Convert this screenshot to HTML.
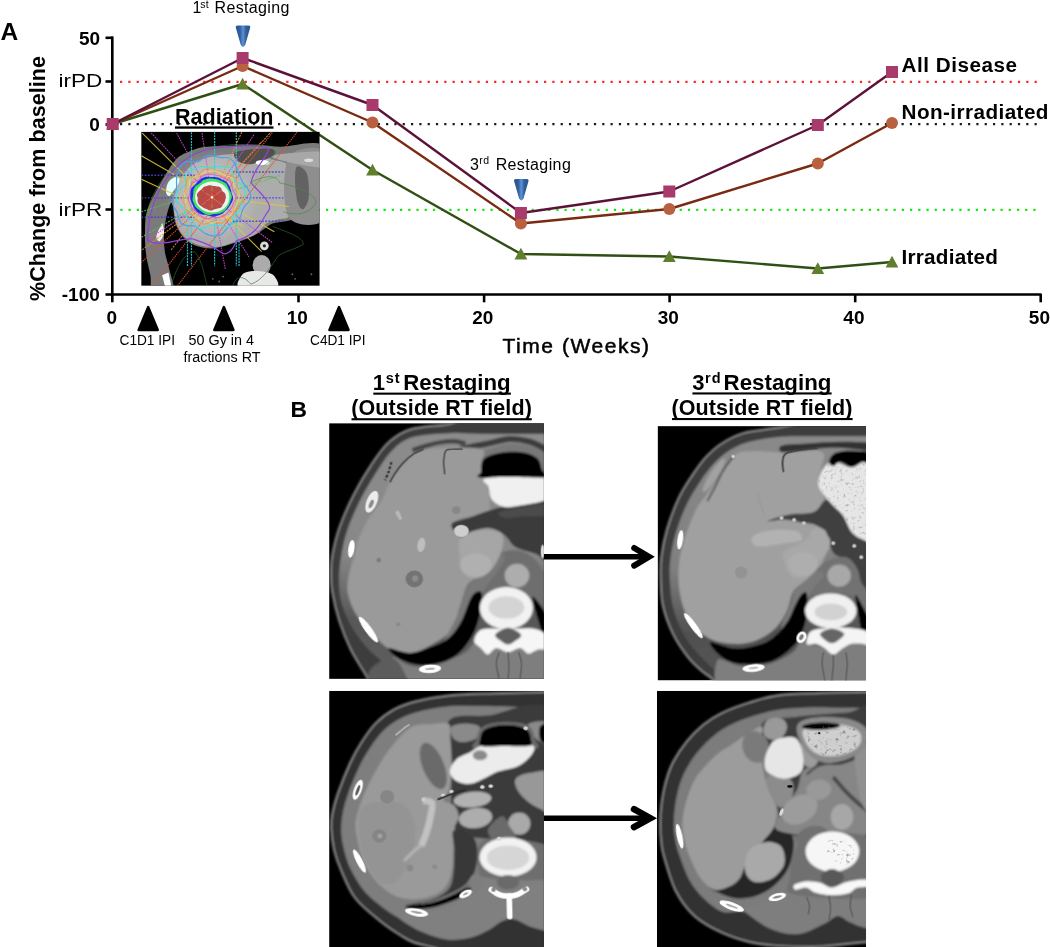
<!DOCTYPE html>
<html lang="en"><head><meta charset="utf-8"><title>Figure</title>
<style>
html,body{margin:0;padding:0;background:#fff;}
body{width:1050px;height:947px;overflow:hidden;font-family:"Liberation Sans",sans-serif;}
svg{display:block}
text{font-family:"Liberation Sans",sans-serif;fill:#000}
.b{font-weight:bold}
</style></head><body>
<svg width="1050" height="947" viewBox="0 0 1050 947">
<defs>
<linearGradient id="blu" x1="0" x2="1" y1="0" y2="0"><stop offset="0" stop-color="#28558f"/><stop offset="0.3" stop-color="#2f5f9e"/><stop offset="0.5" stop-color="#5d93d2"/><stop offset="0.7" stop-color="#2f5f9e"/><stop offset="1" stop-color="#28558f"/></linearGradient>
<filter id="b1" x="-20%" y="-20%" width="140%" height="140%"><feGaussianBlur stdDeviation="1"/></filter>
<filter id="b2" x="-20%" y="-20%" width="140%" height="140%"><feGaussianBlur stdDeviation="2"/></filter>
<filter id="b3" x="-20%" y="-20%" width="140%" height="140%"><feGaussianBlur stdDeviation="3.5"/></filter>
<filter id="b05" x="-20%" y="-20%" width="140%" height="140%"><feGaussianBlur stdDeviation="0.6"/></filter>
</defs>
<rect width="1050" height="947" fill="#fff"/>

<g id="chart">
<line x1="120" y1="81.8" x2="1037" y2="81.8" stroke="#f42a2a" stroke-width="2.2" stroke-dasharray="2.2 6.114" />
<line x1="120" y1="124.1" x2="1037" y2="124.1" stroke="#1a1a1a" stroke-width="2.2" stroke-dasharray="2.2 6.114" />
<line x1="120.3" y1="209.8" x2="1037" y2="209.8" stroke="#14e614" stroke-width="2.2" stroke-dasharray="2.2 6.026" />
<path d="M112.3 36.5 V294.5 H1041.5" fill="none" stroke="#000" stroke-width="2.6"/>
<line x1="105.5" y1="37.8" x2="113" y2="37.8" stroke="#000" stroke-width="2.6"/>
<line x1="105.5" y1="81.5" x2="113" y2="81.5" stroke="#000" stroke-width="2.6"/>
<line x1="105.5" y1="124.5" x2="113" y2="124.5" stroke="#000" stroke-width="2.6"/>
<line x1="105.5" y1="209.5" x2="113" y2="209.5" stroke="#000" stroke-width="2.6"/>
<line x1="105.5" y1="294.5" x2="113" y2="294.5" stroke="#000" stroke-width="2.6"/>
<line x1="112.3" y1="294" x2="112.3" y2="302.3" stroke="#000" stroke-width="2.6"/>
<line x1="298.5" y1="294" x2="298.5" y2="302.3" stroke="#000" stroke-width="2.6"/>
<line x1="484.1" y1="294" x2="484.1" y2="302.3" stroke="#000" stroke-width="2.6"/>
<line x1="669.6" y1="294" x2="669.6" y2="302.3" stroke="#000" stroke-width="2.6"/>
<line x1="855.2" y1="294" x2="855.2" y2="302.3" stroke="#000" stroke-width="2.6"/>
<line x1="1040.7" y1="294" x2="1040.7" y2="302.3" stroke="#000" stroke-width="2.6"/>
<text class="b" x="100.2" y="44.8" font-size="19" text-anchor="end">50</text>
<text x="58.6" y="87.2" font-size="18.5" textLength="43.8" lengthAdjust="spacingAndGlyphs">irPD</text>
<text class="b" x="99.8" y="130.6" font-size="19" text-anchor="end">0</text>
<text x="58.6" y="215.6" font-size="18.5" textLength="43.8" lengthAdjust="spacingAndGlyphs">irPR</text>
<text class="b" x="99.8" y="301.3" font-size="19" text-anchor="end">-100</text>
<text class="b" x="111.7" y="324.4" font-size="19" text-anchor="middle">0</text>
<text class="b" x="297.2" y="324.4" font-size="19" text-anchor="middle">10</text>
<text class="b" x="482.8" y="324.4" font-size="19" text-anchor="middle">20</text>
<text class="b" x="668.3" y="324.4" font-size="19" text-anchor="middle">30</text>
<text class="b" x="853.9" y="324.4" font-size="19" text-anchor="middle">40</text>
<text class="b" x="1039.4" y="324.4" font-size="19" text-anchor="middle">50</text>
<text class="b" transform="translate(44.5,301) rotate(-90)" font-size="21.5" textLength="245" lengthAdjust="spacing">%Change from baseline</text>
<text x="502.5" y="352.5" font-size="21" textLength="146.5" lengthAdjust="spacing" stroke="#000" stroke-width="0.5">Time (Weeks)</text>
<polyline points="112.7,124.0 242.6,84.0 372.5,170.0 520.9,254.0 669.3,256.5 817.8,268.5 892.0,262.0" fill="none" stroke="#2f4f14" stroke-width="2.4" stroke-linejoin="round"/>
<polyline points="112.7,124.0 242.6,66.0 372.5,122.5 520.9,223.5 669.3,209.0 817.8,163.5 892.0,123.0" fill="none" stroke="#7a2a12" stroke-width="2.4" stroke-linejoin="round"/>
<polyline points="112.7,124.0 242.6,58.0 372.5,105.0 520.9,213.0 669.3,191.5 817.8,125.0 892.0,72.0" fill="none" stroke="#5c1238" stroke-width="2.4" stroke-linejoin="round"/>
<path d="M112.7 117.8 l6.4 11.6 h-12.8z" fill="#5f7f2c"/>
<path d="M242.6 77.8 l6.4 11.6 h-12.8z" fill="#5f7f2c"/>
<path d="M372.5 163.8 l6.4 11.6 h-12.8z" fill="#5f7f2c"/>
<path d="M520.9 247.8 l6.4 11.6 h-12.8z" fill="#5f7f2c"/>
<path d="M669.3 250.3 l6.4 11.6 h-12.8z" fill="#5f7f2c"/>
<path d="M817.8 262.3 l6.4 11.6 h-12.8z" fill="#5f7f2c"/>
<path d="M892.0 255.8 l6.4 11.6 h-12.8z" fill="#5f7f2c"/>
<circle cx="112.7" cy="124.0" r="6" fill="#b8603f"/>
<circle cx="242.6" cy="66.0" r="6" fill="#b8603f"/>
<circle cx="372.5" cy="122.5" r="6" fill="#b8603f"/>
<circle cx="520.9" cy="223.5" r="6" fill="#b8603f"/>
<circle cx="669.3" cy="209.0" r="6" fill="#b8603f"/>
<circle cx="817.8" cy="163.5" r="6" fill="#b8603f"/>
<circle cx="892.0" cy="123.0" r="6" fill="#b8603f"/>
<rect x="106.7" y="118.0" width="12" height="12" fill="#a83a6c"/>
<rect x="236.6" y="52.0" width="12" height="12" fill="#a83a6c"/>
<rect x="366.5" y="99.0" width="12" height="12" fill="#a83a6c"/>
<rect x="514.9" y="207.0" width="12" height="12" fill="#a83a6c"/>
<rect x="663.3" y="185.5" width="12" height="12" fill="#a83a6c"/>
<rect x="811.8" y="119.0" width="12" height="12" fill="#a83a6c"/>
<rect x="886.0" y="66.0" width="12" height="12" fill="#a83a6c"/>
<text class="b" x="901.5" y="71.6" font-size="20.7" textLength="115.5" lengthAdjust="spacing">All Disease</text>
<text class="b" x="901.5" y="119.4" font-size="20.7" textLength="147" lengthAdjust="spacing">Non-irradiated</text>
<text class="b" x="901.5" y="263.7" font-size="20.7" textLength="96.5" lengthAdjust="spacing">Irradiated</text>
<text font-size="16"><tspan x="192.6" y="13.4">1</tspan><tspan x="200.3" y="7.6" font-size="10.5" textLength="8.4" lengthAdjust="spacing">st</tspan><tspan x="209.8" y="13.4" textLength="79.5" lengthAdjust="spacing"> Restaging</tspan></text>
<text font-size="16"><tspan x="470" y="170">3</tspan><tspan x="479.3" y="164" font-size="10.5" textLength="9.8" lengthAdjust="spacing">rd</tspan><tspan x="490.8" y="170" textLength="80" lengthAdjust="spacing"> Restaging</tspan></text>
<path d="M237.7 25.5 h10.6 q2.4 0 1.8 2.4 l-4.9 17.2 q-2.2 3.6 -4.4 0 l-4.9 -17.2 q-0.6 -2.4 1.8 -2.4z" fill="url(#blu)"/>
<path d="M516.0 179.0 h10.6 q2.4 0 1.8 2.4 l-4.9 17.2 q-2.2 3.6 -4.4 0 l-4.9 -17.2 q-0.6 -2.4 1.8 -2.4z" fill="url(#blu)"/>
<path d="M148.2 307 l9.6 23 h-19.2z" fill="#000" stroke="#000" stroke-width="2.4" stroke-linejoin="round"/>
<path d="M223.9 307 l9.6 23 h-19.2z" fill="#000" stroke="#000" stroke-width="2.4" stroke-linejoin="round"/>
<path d="M339.0 307 l9.6 23 h-19.2z" fill="#000" stroke="#000" stroke-width="2.4" stroke-linejoin="round"/>
<text x="119.5" y="344.5" font-size="14" textLength="55.5" lengthAdjust="spacingAndGlyphs">C1D1 IPI</text>
<text x="188.5" y="344.5" font-size="14" textLength="65.5" lengthAdjust="spacingAndGlyphs">50 Gy in 4</text>
<text x="183.5" y="361.5" font-size="14" textLength="77" lengthAdjust="spacingAndGlyphs">fractions RT</text>
<text x="310" y="344.5" font-size="14" textLength="55.5" lengthAdjust="spacingAndGlyphs">C4D1 IPI</text>
<text class="b" x="0.6" y="39.8" font-size="24.5">A</text>
<text class="b" x="290.6" y="417.3" font-size="22.8">B</text>
<text class="b" x="175" y="124.3" font-size="21.5" textLength="98.5" lengthAdjust="spacing">Radiation</text>
<rect x="175" y="126.4" width="98.5" height="2.3" fill="#000"/>
</g>
<g id="titles">
<text class="b" font-size="22"><tspan x="372.8" y="390.4">1</tspan><tspan x="385.8" y="383.3" font-size="14.5" textLength="13.8" lengthAdjust="spacing">st</tspan><tspan x="397" y="390.4" textLength="113.7" lengthAdjust="spacingAndGlyphs"> Restaging</tspan></text>
<rect x="373.3" y="392.6" width="137.6" height="2.1" fill="#000"/>
<text class="b" x="351.3" y="415.4" font-size="21.5" textLength="180.5" lengthAdjust="spacing">(Outside RT field)</text>
<rect x="351.5" y="418.2" width="180.3" height="2.1" fill="#000"/>
<text class="b" font-size="22"><tspan x="692.3" y="390.3">3</tspan><tspan x="705" y="383.2" font-size="14.5" textLength="15.6" lengthAdjust="spacing">rd</tspan><tspan x="717.4" y="390.3" textLength="114" lengthAdjust="spacingAndGlyphs"> Restaging</tspan></text>
<rect x="692.4" y="392.4" width="139.2" height="2.1" fill="#000"/>
<text class="b" x="671.5" y="415.4" font-size="21.5" textLength="181" lengthAdjust="spacing">(Outside RT field)</text>
<rect x="672" y="418" width="180.6" height="2.1" fill="#000"/>
<line x1="544" y1="556.8" x2="650.0" y2="556.8" stroke="#000" stroke-width="5.6"/>
<polyline points="634.2,548.0 649.0,556.8 634.2,565.6" fill="none" stroke="#000" stroke-width="6.0" stroke-linecap="round" stroke-linejoin="miter"/>
<line x1="544" y1="818.2" x2="651.3" y2="818.2" stroke="#000" stroke-width="5.6"/>
<polyline points="634.0,809.2 650.3,818.2 634.0,827.2" fill="none" stroke="#000" stroke-width="6.5" stroke-linecap="round" stroke-linejoin="miter"/>
</g>
<svg id="rad" x="135" y="125" width="190" height="167" viewBox="0 0 1050 923" overflow="hidden">
<defs>
<clipPath id="radclip"><rect x="35" y="38" width="985" height="850"/></clipPath>
<filter id="rb" x="-10%" y="-10%" width="120%" height="120%"><feGaussianBlur stdDeviation="3.5"/></filter>
<filter id="rb2" x="-10%" y="-10%" width="120%" height="120%"><feGaussianBlur stdDeviation="9"/></filter>
<filter id="rb1" x="-10%" y="-10%" width="120%" height="120%"><feGaussianBlur stdDeviation="2.5"/></filter>
<radialGradient id="rglow" cx="425" cy="395" r="260" gradientUnits="userSpaceOnUse"><stop offset="0" stop-color="#fff" stop-opacity="0.4"/><stop offset="0.55" stop-color="#fff" stop-opacity="0.2"/><stop offset="1" stop-color="#fff" stop-opacity="0"/></radialGradient>
</defs>
<rect x="35" y="38" width="985" height="850" fill="#000"/>
<g clip-path="url(#radclip)">
<g filter="url(#rb)">
<path d="M1060.0 130.0 C1016.7 65.8 870.0 123.0 800.0 120.0 C730.0 117.0 682.8 112.8 640.0 112.0 C597.2 111.2 585.5 113.3 543.0 115.0 C500.5 116.7 423.7 117.3 385.0 122.0 C346.3 126.7 337.3 131.7 311.0 143.0 C284.7 154.3 254.2 162.0 227.0 190.0 C199.8 218.0 174.3 264.5 148.0 311.0 C121.7 357.5 84.5 420.8 69.0 469.0 C53.5 517.2 56.2 558.2 55.0 600.0 C53.8 641.8 57.0 681.7 62.0 720.0 C67.0 758.3 78.7 796.7 85.0 830.0 C91.3 863.3 79.2 905.0 100.0 920.0 C120.8 935.0 195.0 940.0 210.0 920.0 C225.0 900.0 197.5 836.7 190.0 800.0 C182.5 763.3 170.0 733.3 165.0 700.0 C160.0 666.7 158.3 633.3 160.0 600.0 C161.7 566.7 167.5 528.3 175.0 500.0 C182.5 471.7 195.8 420.0 205.0 430.0 C214.2 440.0 214.2 523.3 230.0 560.0 C245.8 596.7 268.3 629.7 300.0 650.0 C331.7 670.3 376.7 682.0 420.0 682.0 C463.3 682.0 520.0 662.0 560.0 650.0 C600.0 638.0 636.7 620.8 660.0 610.0 C683.3 599.2 683.3 595.8 700.0 585.0 C716.7 574.2 736.7 554.2 760.0 545.0 C783.3 535.8 806.7 535.8 840.0 530.0 C873.3 524.2 923.3 514.2 960.0 510.0 C996.7 505.8 1043.3 568.3 1060.0 505.0 C1076.7 441.7 1103.3 194.2 1060.0 130.0Z" fill="#7a7a7a" />
<path d="M215.0 470.0 C212.0 435.0 212.8 393.3 222.0 360.0 C231.2 326.7 250.3 295.8 270.0 270.0 C289.7 244.2 311.7 221.3 340.0 205.0 C368.3 188.7 396.7 179.5 440.0 172.0 C483.3 164.5 546.7 157.0 600.0 160.0 C653.3 163.0 718.3 178.0 760.0 190.0 C801.7 202.0 834.2 197.0 850.0 232.0 C865.8 267.0 855.0 354.5 855.0 400.0 C855.0 445.5 860.8 484.7 850.0 505.0 C839.2 525.3 810.0 515.8 790.0 522.0 C770.0 528.2 746.7 532.0 730.0 542.0 C713.3 552.0 703.3 570.3 690.0 582.0 C676.7 593.7 671.7 602.0 650.0 612.0 C628.3 622.0 590.0 632.0 560.0 642.0 C530.0 652.0 498.3 667.0 470.0 672.0 C441.7 677.0 418.3 677.3 390.0 672.0 C361.7 666.7 325.0 657.0 300.0 640.0 C275.0 623.0 254.2 598.3 240.0 570.0 C225.8 541.7 218.0 505.0 215.0 470.0Z" fill="#acacac" />
<path d="M850.0 180.0 C885.0 121.7 1025.0 105.0 1060.0 160.0 C1095.0 215.0 1095.0 451.7 1060.0 510.0 C1025.0 568.3 885.0 565.0 850.0 510.0 C815.0 455.0 815.0 238.3 850.0 180.0Z" fill="#8e8e8e" />
<path d="M895.0 230.0 C905.8 221.7 939.2 241.7 950.0 270.0 C960.8 298.3 963.3 367.5 960.0 400.0 C956.7 432.5 940.0 460.0 930.0 465.0 C920.0 470.0 907.5 454.2 900.0 430.0 C892.5 405.8 885.8 353.3 885.0 320.0 C884.2 286.7 884.2 238.3 895.0 230.0Z" fill="#626262" />
<path d="M760.0 170.0 C786.7 159.0 1010.0 139.7 1060.0 150.0 C1110.0 160.3 1086.7 221.0 1060.0 232.0 C1033.3 243.0 950.0 226.3 900.0 216.0 C850.0 205.7 733.3 181.0 760.0 170.0Z" fill="#a8a8a8" />
<path d="M560.0 150.0 C588.3 138.3 705.0 127.5 740.0 130.0 C775.0 132.5 785.0 150.8 770.0 165.0 C755.0 179.2 683.3 209.2 650.0 215.0 C616.7 220.8 585.0 210.8 570.0 200.0 C555.0 189.2 531.7 161.7 560.0 150.0Z" fill="#505050" />
<circle cx="715" cy="668" r="24" fill="#ddd"/>
<ellipse cx="700" cy="775" rx="50" ry="56" fill="#ababab" />
<path d="M580.0 900.0 C548.7 888.3 580.0 845.3 590.0 830.0 C600.0 814.7 618.3 811.0 640.0 808.0 C661.7 805.0 698.3 807.5 720.0 812.0 C741.7 816.5 760.3 820.3 770.0 835.0 C779.7 849.7 809.7 889.2 778.0 900.0 C746.3 910.8 611.3 911.7 580.0 900.0Z" fill="#e8e8e8" />
</g>
<ellipse cx="425" cy="395" rx="270" ry="250" fill="url(#rglow)"/>
<g filter="url(#rb1)">
<circle cx="715" cy="668" r="9" fill="#222"/>
<ellipse cx="705" cy="208" rx="38" ry="14" fill="#fff" />
<path d="M172.0 375.0 C170.3 363.8 173.3 338.8 180.0 325.0 C186.7 311.2 201.0 296.8 212.0 292.0 C223.0 287.2 242.0 289.3 246.0 296.0 C250.0 302.7 241.3 321.0 236.0 332.0 C230.7 343.0 221.7 352.0 214.0 362.0 C206.3 372.0 197.0 389.8 190.0 392.0 C183.0 394.2 173.7 386.2 172.0 375.0Z" fill="#e4ffff" />
<path d="M118.0 625.0 C116.3 616.3 122.0 600.8 126.0 590.0 C130.0 579.2 137.7 567.5 142.0 560.0 C146.3 552.5 149.0 538.3 152.0 545.0 C155.0 551.7 162.7 583.8 160.0 600.0 C157.3 616.2 143.0 637.8 136.0 642.0 C129.0 646.2 119.7 633.7 118.0 625.0Z" fill="#eee" />
<path d="M150 830 L185 815 L200 888 L165 888Z" fill="#fff"/>
<ellipse cx="960" cy="195" rx="25" ry="10" fill="#ddd" />
<ellipse cx="430" cy="850" rx="5" ry="5" fill="#666" />
<ellipse cx="465" cy="865" rx="5" ry="5" fill="#666" />
<ellipse cx="487" cy="838" rx="5" ry="5" fill="#666" />
<ellipse cx="870" cy="825" rx="5" ry="5" fill="#666" />
<ellipse cx="885" cy="850" rx="5" ry="5" fill="#666" />
<ellipse cx="975" cy="825" rx="5" ry="5" fill="#666" />
</g>
<g fill="none" stroke-width="6" opacity="0.9">
<g stroke="#e0c838"><path d="M40 45 L700 700"/><path d="M35 170 L770 590"/><path d="M35 300 L600 560"/><path d="M425 400 L850 450"/></g>
<g stroke="#d048d0" stroke-dasharray="9 5"><path d="M90 45 L425 400 L630 730"/><path d="M230 45 L425 400 L500 800"/><path d="M370 45 L425 400"/><path d="M425 400 L760 650"/><path d="M425 400 L60 640"/><path d="M425 400 L660 50"/></g>
<g stroke="#30d0e0" stroke-dasharray="11 5" stroke-width="6.5"><path d="M312 40 V780"/><path d="M440 40 V780"/><path d="M560 40 V780"/><path d="M290 560 V780"/><path d="M575 640 V780"/></g>
<g stroke="#4444cc" stroke-dasharray="10 8" stroke-width="7.5"><path d="M35 278 H330"/><path d="M540 260 H820"/><path d="M35 403 H300"/><path d="M560 403 H820"/><path d="M35 510 H330"/><path d="M540 532 H820"/></g>
<g stroke="#e85030" stroke-dasharray="7 5" stroke-width="6.5"><path d="M95 888 L760 40"/><path d="M235 888 L895 40"/><path d="M35 760 L425 400 L700 90"/></g>
<g stroke="#e89030" stroke-dasharray="11 6"><path d="M40 690 L425 400 L590 40"/><path d="M200 690 L425 400 L750 40"/></g>
<g stroke="#50c850" stroke-dasharray="11 6"><path d="M35 620 L425 400 L800 280"/><path d="M35 480 L220 420"/></g>
</g>
<g fill="none">
<path d="M70 640 C70 400 200 180 420 130 C560 110 700 110 740 130 C720 200 660 230 640 320 C700 380 760 440 740 470 C700 520 690 600 560 640 C540 700 500 730 470 700 C420 660 350 640 320 630 C250 620 150 680 70 640Z" stroke="#9440d8" stroke-width="6.5"/>
<path d="M639.9 385.0 C641.5 396.7 636.7 410.1 631.0 420.9 C625.2 431.7 612.0 440.2 605.3 449.9 C598.7 459.6 595.1 468.8 591.0 479.0 C586.9 489.3 586.6 502.3 580.8 511.3 C575.0 520.4 565.1 527.1 556.3 533.2 C547.4 539.2 536.1 541.1 527.8 547.8 C519.5 554.5 514.1 564.3 506.4 573.2 C498.8 582.1 491.5 594.8 482.0 601.4 C472.5 608.0 460.6 611.5 449.4 612.9 C438.2 614.3 426.1 612.4 415.0 609.7 C403.9 607.0 392.8 602.7 383.0 596.9 C373.2 591.0 365.0 580.8 356.3 574.4 C347.6 568.0 340.9 561.2 330.8 558.3 C320.7 555.4 307.6 558.8 295.9 557.0 C284.1 555.1 269.1 554.1 260.2 547.3 C251.3 540.6 247.0 527.4 242.3 516.6 C237.7 505.8 237.0 493.1 232.4 482.6 C227.9 472.0 219.3 463.7 214.8 453.2 C210.3 442.8 205.1 431.2 205.5 419.8 C205.9 408.4 213.2 395.9 217.1 385.0 C221.1 374.1 227.1 364.7 229.1 354.1 C231.2 343.6 229.1 333.0 229.4 321.7 C229.7 310.5 229.1 298.3 230.9 286.6 C232.7 275.0 235.8 263.0 240.2 251.8 C244.6 240.6 249.3 227.8 257.3 219.6 C265.4 211.4 277.0 205.2 288.6 202.6 C300.2 200.0 315.5 204.5 327.0 203.8 C338.4 203.1 347.7 202.9 357.2 198.3 C366.6 193.8 373.9 182.1 383.6 176.8 C393.2 171.4 404.5 166.6 415.0 166.3 C425.5 166.1 436.1 173.1 446.7 175.4 C457.2 177.7 467.2 179.2 478.5 180.1 C489.7 181.0 503.4 177.5 514.2 180.7 C525.0 184.0 535.9 190.9 543.3 199.7 C550.8 208.6 554.5 222.8 559.1 233.8 C563.8 244.8 567.2 255.7 571.5 265.8 C575.7 275.8 580.1 284.9 584.7 294.3 C589.3 303.7 593.0 312.9 599.1 322.3 C605.2 331.7 614.5 340.3 621.3 350.7 C628.2 361.2 638.3 373.3 639.9 385.0Z" fill="none" stroke="#48a0f0" stroke-width="6.5" />
<path d="M607.7 395.0 C605.4 404.1 596.4 412.8 592.2 421.4 C588.0 429.9 585.2 437.6 582.7 446.1 C580.2 454.6 581.8 465.1 577.3 472.5 C572.9 479.9 561.9 483.8 556.0 490.4 C550.0 497.1 545.1 502.9 541.6 512.5 C538.1 522.0 540.4 539.5 534.9 547.8 C529.4 556.2 518.6 561.5 508.4 562.6 C498.2 563.8 484.1 556.3 473.6 554.5 C463.2 552.7 454.6 551.8 445.7 551.6 C436.7 551.4 428.9 551.3 420.0 553.3 C411.1 555.3 402.4 560.0 392.4 563.6 C382.3 567.1 369.2 575.7 359.6 574.6 C350.0 573.4 341.5 564.2 334.7 556.7 C327.9 549.3 325.4 536.5 318.7 529.8 C311.9 523.0 301.1 522.3 294.3 516.4 C287.6 510.6 281.4 502.9 278.0 494.7 C274.6 486.5 277.7 475.0 273.7 467.0 C269.8 459.1 261.0 454.3 254.2 447.0 C247.5 439.8 237.3 432.3 233.1 423.6 C228.9 414.9 228.6 404.5 229.1 395.0 C229.5 385.5 230.5 375.2 235.7 366.8 C240.9 358.4 252.4 351.4 260.2 344.8 C267.9 338.2 279.2 335.4 282.2 327.1 C285.1 318.9 277.8 306.0 277.8 295.2 C277.9 284.4 276.9 269.6 282.5 262.1 C288.1 254.7 302.0 254.1 311.3 250.4 C320.6 246.8 329.6 243.7 338.4 240.3 C347.3 236.9 355.4 231.3 364.5 230.0 C373.7 228.7 384.1 232.4 393.4 232.6 C402.6 232.8 411.0 231.9 420.0 231.2 C429.0 230.5 438.1 228.4 447.3 228.5 C456.4 228.6 464.8 231.9 474.8 231.9 C484.9 232.0 497.5 227.2 507.6 228.9 C517.6 230.6 529.9 233.3 535.1 241.9 C540.3 250.5 536.9 269.5 538.7 280.3 C540.6 291.0 540.3 299.9 546.2 306.4 C552.2 312.8 566.4 313.3 574.6 318.9 C582.8 324.5 590.3 332.0 595.5 339.9 C600.8 347.8 604.1 357.3 606.2 366.5 C608.2 375.7 610.0 385.9 607.7 395.0Z" fill="none" stroke="#40e0e0" stroke-width="6.5" />
<path d="M592.0 395.0 C595.5 402.9 595.9 412.6 592.5 420.2 C589.1 427.7 576.8 433.4 571.8 440.3 C566.7 447.1 565.7 454.5 561.9 461.2 C558.1 467.9 553.3 474.0 549.0 480.5 C544.7 487.0 540.6 493.7 535.9 500.3 C531.1 506.8 526.9 514.8 520.6 519.9 C514.2 524.9 505.2 526.6 497.7 530.5 C490.3 534.4 483.8 541.6 475.7 543.3 C467.7 544.9 457.7 542.4 449.3 540.5 C440.8 538.6 433.2 531.1 425.0 531.7 C416.8 532.3 408.8 541.3 400.2 543.8 C391.5 546.4 381.4 548.3 373.0 546.8 C364.7 545.3 356.5 540.2 350.0 534.8 C343.4 529.4 338.3 521.4 333.7 514.4 C329.1 507.3 328.4 497.7 322.3 492.5 C316.3 487.3 304.7 487.5 297.4 483.0 C290.1 478.6 282.5 472.7 278.6 465.8 C274.7 458.9 276.4 449.3 274.0 441.6 C271.6 433.8 265.1 427.0 264.0 419.2 C263.0 411.4 265.8 402.8 267.8 395.0 C269.7 387.2 273.9 380.1 275.7 372.6 C277.6 365.1 277.6 357.6 279.0 350.0 C280.5 342.4 283.3 335.5 284.6 327.1 C285.9 318.7 282.6 306.6 286.7 299.6 C290.8 292.6 300.3 287.6 309.1 285.0 C317.9 282.3 331.8 286.5 339.7 283.5 C347.6 280.5 350.4 272.7 356.4 267.2 C362.4 261.7 368.4 255.1 375.6 250.5 C382.7 245.9 390.9 241.6 399.1 239.8 C407.3 237.9 416.7 237.5 425.0 239.5 C433.3 241.5 440.8 249.5 448.9 252.0 C456.9 254.4 465.4 252.2 473.2 254.1 C481.0 256.0 488.7 259.5 495.6 263.5 C502.5 267.5 506.8 274.6 514.6 278.0 C522.4 281.3 534.9 279.5 542.4 283.5 C550.0 287.5 556.0 294.8 559.7 302.1 C563.3 309.5 563.1 319.4 564.3 327.6 C565.5 335.8 565.5 343.7 566.7 351.3 C567.9 358.8 567.3 365.7 571.5 373.0 C575.7 380.3 588.5 387.1 592.0 395.0Z" fill="none" stroke="#e8a040" stroke-width="6" />
<path d="M577.5 395.0 C576.4 402.2 568.5 409.1 565.9 416.1 C563.2 423.1 563.8 430.2 561.8 437.0 C559.8 443.8 557.1 450.7 553.7 457.0 C550.3 463.3 544.9 468.3 541.5 475.0 C538.0 481.7 537.9 491.5 533.0 497.1 C528.1 502.6 519.3 505.2 512.1 508.3 C504.9 511.4 497.4 513.8 489.9 515.5 C482.5 517.1 474.3 515.0 467.3 518.2 C460.4 521.4 455.5 530.7 448.4 534.7 C441.4 538.7 432.6 543.3 425.0 542.3 C417.4 541.3 409.8 532.3 402.6 528.9 C395.3 525.4 388.6 523.7 381.6 521.4 C374.5 519.0 368.1 516.5 360.4 514.8 C352.8 513.1 342.3 514.8 335.6 511.2 C329.0 507.7 325.5 499.5 320.6 493.6 C315.8 487.8 310.9 482.3 306.7 476.2 C302.5 470.2 297.7 464.2 295.3 457.5 C292.9 450.7 295.1 442.5 292.4 435.7 C289.8 428.9 282.4 423.6 279.4 416.8 C276.3 410.0 274.6 402.4 273.9 395.0 C273.3 387.6 272.0 379.3 275.3 372.6 C278.6 365.9 289.5 360.9 293.8 354.7 C298.1 348.5 299.9 342.8 301.1 335.3 C302.3 327.9 298.3 316.8 301.2 310.0 C304.0 303.1 312.0 298.6 318.3 294.2 C324.7 289.7 331.9 286.0 339.2 283.4 C346.5 280.7 355.3 281.5 362.0 278.2 C368.8 274.8 373.1 266.8 379.7 263.3 C386.4 259.9 394.4 258.8 401.9 257.4 C409.5 256.1 417.2 255.9 425.0 255.4 C432.8 254.8 441.3 252.1 448.6 254.2 C455.9 256.4 461.9 264.5 468.6 268.1 C475.4 271.7 482.2 273.3 489.1 276.0 C496.1 278.7 502.5 281.7 510.2 284.1 C517.9 286.6 529.6 286.0 535.3 290.7 C541.0 295.5 542.8 305.2 544.7 312.8 C546.5 320.5 543.4 329.9 546.3 336.6 C549.2 343.2 557.7 346.8 562.1 352.9 C566.5 359.0 570.1 365.9 572.7 372.9 C575.3 379.9 578.6 387.8 577.5 395.0Z" fill="none" stroke="#f0e060" stroke-width="4" />
<path d="M563.9 395.0 C563.3 401.7 559.3 408.2 557.7 414.8 C556.1 421.4 556.1 428.2 554.1 434.5 C552.2 440.9 547.9 446.3 545.8 452.9 C543.6 459.6 545.4 469.1 541.2 474.5 C537.1 479.9 527.3 481.8 520.9 485.3 C514.4 488.8 508.2 491.5 502.6 495.5 C496.9 499.5 492.2 504.3 486.7 509.1 C481.2 513.9 476.4 522.2 469.6 524.3 C462.9 526.4 453.7 522.2 446.3 521.4 C438.8 520.6 432.1 519.5 425.0 519.7 C417.9 519.8 410.8 522.1 403.6 522.2 C396.4 522.3 388.6 522.2 381.7 520.3 C374.9 518.5 368.4 514.5 362.3 510.9 C356.2 507.3 350.5 502.9 345.1 498.6 C339.6 494.3 334.1 489.9 329.3 485.1 C324.5 480.2 321.4 474.3 316.2 469.4 C311.0 464.5 302.0 461.5 298.2 455.8 C294.4 450.1 294.0 442.2 293.2 435.3 C292.5 428.4 293.7 421.3 293.6 414.6 C293.5 407.9 294.6 401.8 292.7 395.0 C290.9 388.2 282.3 380.4 282.4 373.7 C282.6 367.0 289.7 360.8 293.6 354.8 C297.5 348.8 301.9 343.4 305.8 337.8 C309.7 332.2 313.9 327.4 317.2 321.2 C320.4 315.1 320.6 306.1 325.1 300.9 C329.6 295.8 338.1 294.0 344.3 290.4 C350.5 286.7 355.8 281.8 362.3 279.2 C368.9 276.5 376.6 276.4 383.5 274.7 C390.4 273.1 396.9 271.1 403.9 269.3 C410.8 267.6 417.8 265.4 425.0 264.3 C432.2 263.3 440.3 261.2 447.2 263.0 C454.1 264.8 460.2 271.4 466.4 275.0 C472.6 278.7 477.6 282.9 484.5 285.0 C491.5 287.1 501.1 285.0 507.9 287.6 C514.6 290.3 520.7 295.3 525.1 300.8 C529.5 306.2 531.2 314.1 534.1 320.4 C537.0 326.7 538.4 333.0 542.4 338.7 C546.4 344.3 555.1 348.2 558.3 354.2 C561.4 360.2 560.4 367.9 561.3 374.7 C562.2 381.5 564.5 388.3 563.9 395.0Z" fill="none" stroke="#e8a040" stroke-width="4" />
<path d="M559.1 395.0 C559.9 401.3 557.0 408.3 554.4 414.4 C551.8 420.4 546.4 425.6 543.6 431.4 C540.9 437.3 540.8 443.9 538.1 449.5 C535.3 455.1 530.8 459.9 527.0 465.1 C523.2 470.2 519.3 475.2 515.1 480.2 C510.9 485.2 507.0 490.9 501.8 494.9 C496.6 499.0 490.1 501.7 484.0 504.5 C477.9 507.4 471.8 510.9 465.2 511.9 C458.6 512.9 451.1 510.8 444.4 510.5 C437.7 510.3 431.7 509.2 425.0 510.5 C418.3 511.8 411.2 517.4 404.4 518.1 C397.5 518.8 390.2 517.1 383.9 514.7 C377.5 512.3 371.9 507.6 366.5 503.6 C361.1 499.6 356.4 494.9 351.6 490.5 C346.8 486.2 343.0 481.4 337.7 477.5 C332.5 473.6 324.8 471.5 320.0 467.1 C315.2 462.7 311.9 456.6 309.1 450.8 C306.2 445.1 305.3 438.5 303.0 432.5 C300.8 426.4 296.3 420.6 295.6 414.4 C294.9 408.1 297.5 401.3 298.7 395.0 C300.0 388.7 302.0 382.9 303.0 376.7 C303.9 370.6 303.4 364.2 304.3 357.9 C305.3 351.6 306.7 345.2 308.7 339.0 C310.7 332.7 311.9 325.2 316.4 320.4 C320.8 315.6 328.9 313.0 335.1 310.1 C341.4 307.1 348.6 306.2 353.9 302.5 C359.2 298.8 362.0 291.8 367.2 287.7 C372.3 283.6 378.5 280.3 384.7 277.8 C391.0 275.4 397.8 273.7 404.5 272.9 C411.2 272.0 418.3 271.8 425.0 272.6 C431.7 273.4 438.1 276.4 444.6 277.7 C451.2 279.0 458.1 278.7 464.3 280.6 C470.6 282.5 476.2 286.3 482.0 289.2 C487.9 292.1 493.2 295.4 499.5 298.1 C505.8 300.8 514.6 301.3 519.8 305.4 C525.0 309.4 528.0 316.4 530.7 322.4 C533.4 328.5 533.9 335.5 535.9 341.6 C537.8 347.7 540.0 353.2 542.3 359.0 C544.7 364.8 547.1 370.3 549.9 376.3 C552.7 382.3 558.3 388.7 559.1 395.0Z" fill="none" stroke="#e860c8" stroke-width="6" />
<path d="M640 320 C720 270 790 280 800 320 C900 340 1000 380 1000 430 C960 500 880 500 820 480" stroke="#3f8f3f" stroke-width="3.5"/>
<path d="M760 560 C860 600 930 620 930 660 C860 700 800 700 780 740 C740 800 700 860 640 880 C600 830 560 830 540 888" stroke="#2f6f2f" stroke-width="3.5"/>
<path d="M200 888 C230 780 280 700 330 700 C380 760 380 840 400 888" stroke="#2f6f2f" stroke-width="3.5"/>
<path d="M60 520 C80 380 180 220 330 150 C450 100 650 100 760 120 C790 150 760 200 700 230" stroke="#3f9f3f" stroke-width="3"/>
</g>
<path d="M540.7 395.0 C541.9 400.8 542.8 407.1 541.7 412.8 C540.6 418.5 536.6 423.9 533.9 429.2 C531.1 434.4 528.1 439.4 525.1 444.4 C522.1 449.4 519.4 454.5 515.8 459.1 C512.2 463.6 507.8 467.6 503.6 471.7 C499.4 475.8 495.2 480.0 490.5 483.7 C485.9 487.4 480.9 491.0 475.6 493.8 C470.2 496.6 464.2 498.4 458.4 500.3 C452.6 502.3 446.7 504.7 440.6 505.6 C434.6 506.6 428.1 507.1 422.0 506.3 C415.9 505.4 410.1 502.1 404.2 500.4 C398.4 498.8 392.9 497.5 387.0 496.4 C381.0 495.3 374.3 495.7 368.4 494.0 C362.5 492.2 356.7 489.4 351.6 486.1 C346.5 482.8 342.0 478.5 337.9 474.1 C333.8 469.7 330.1 464.9 327.1 459.8 C324.0 454.8 322.3 449.2 319.8 443.9 C317.4 438.7 314.8 433.7 312.5 428.5 C310.2 423.2 307.1 417.9 306.0 412.3 C304.8 406.7 305.3 400.8 305.3 395.0 C305.4 389.2 305.8 383.6 306.2 377.8 C306.6 371.9 306.0 365.6 307.7 360.1 C309.4 354.5 312.9 349.2 316.5 344.5 C320.2 339.8 325.4 336.1 329.5 331.8 C333.6 327.6 337.2 323.3 341.3 319.1 C345.3 314.9 349.4 310.8 353.9 306.8 C358.3 302.9 363.0 298.9 368.1 295.5 C373.2 292.2 378.7 288.6 384.7 286.9 C390.6 285.3 397.4 285.6 403.6 285.8 C409.8 285.9 415.9 287.3 422.0 287.6 C428.1 287.8 434.1 286.8 440.1 287.3 C446.2 287.8 452.4 288.8 458.1 290.6 C463.8 292.3 469.0 295.5 474.6 298.0 C480.1 300.4 486.0 302.4 491.3 305.3 C496.6 308.2 502.1 311.5 506.5 315.5 C510.9 319.6 514.4 324.8 517.6 329.7 C520.8 334.7 523.8 339.9 525.9 345.2 C528.1 350.6 529.2 356.3 530.6 361.8 C532.0 367.3 532.6 372.7 534.3 378.3 C536.0 383.8 539.5 389.2 540.7 395.0Z" fill="#2230e0" />
<path d="M535.3 396.0 C535.2 401.2 532.5 406.6 530.8 411.7 C529.1 416.7 526.8 421.4 525.1 426.4 C523.3 431.3 522.7 436.7 520.2 441.4 C517.8 446.0 513.7 449.8 510.5 454.0 C507.2 458.3 504.2 462.6 500.6 466.7 C497.1 470.8 493.6 475.3 489.2 478.5 C484.7 481.8 479.3 484.0 474.1 486.1 C468.9 488.2 463.5 490.1 458.0 491.0 C452.5 491.9 446.7 491.1 441.2 491.6 C435.7 492.2 430.6 493.4 425.0 494.5 C419.4 495.6 413.3 498.4 407.7 498.1 C402.1 497.8 396.5 495.0 391.4 492.7 C386.2 490.5 381.5 487.3 376.8 484.4 C372.1 481.5 367.5 478.7 363.1 475.6 C358.8 472.4 354.7 469.0 350.4 465.7 C346.1 462.3 341.0 459.5 337.4 455.5 C333.8 451.5 331.5 446.4 329.1 441.7 C326.6 436.9 324.5 432.1 322.6 427.1 C320.7 422.1 318.1 417.1 317.7 411.9 C317.3 406.7 319.5 401.2 320.2 396.0 C320.9 390.8 321.4 385.9 321.8 380.7 C322.2 375.5 321.6 370.1 322.5 364.9 C323.5 359.7 325.1 354.4 327.5 349.6 C329.8 344.7 332.6 339.7 336.5 335.9 C340.4 332.1 346.4 329.9 351.0 326.8 C355.6 323.8 359.8 321.0 364.0 317.5 C368.1 314.0 371.3 308.9 375.9 306.0 C380.5 303.0 386.2 301.5 391.6 299.9 C396.9 298.2 402.5 297.0 408.1 296.3 C413.7 295.5 419.4 295.1 425.0 295.5 C430.6 295.8 436.1 297.4 441.5 298.4 C447.0 299.4 452.6 300.0 457.8 301.6 C463.0 303.2 467.8 306.0 472.9 308.2 C478.0 310.3 483.2 312.1 488.3 314.5 C493.4 317.0 499.6 318.9 503.4 322.7 C507.2 326.5 509.0 332.5 511.4 337.4 C513.7 342.2 515.3 347.2 517.6 351.9 C520.0 356.6 522.9 360.9 525.2 365.6 C527.5 370.3 529.7 375.2 531.4 380.2 C533.1 385.3 535.3 390.8 535.3 396.0Z" fill="#44e066" />
<ellipse cx="427" cy="398" rx="95" ry="86" fill="#e8f6ee" filter="url(#rb1)"/>
<path d="M502.3 402.0 C501.9 405.6 499.9 409.0 498.9 412.5 C497.9 415.9 497.5 419.5 496.3 422.8 C495.1 426.1 493.4 429.4 491.5 432.5 C489.6 435.6 486.7 438.0 484.8 441.3 C482.9 444.5 482.6 449.1 480.1 452.0 C477.7 455.0 473.8 457.3 469.9 458.8 C466.1 460.3 461.0 460.1 456.9 461.0 C452.8 461.9 449.3 463.2 445.5 464.4 C441.7 465.5 438.1 466.6 434.1 468.0 C430.2 469.4 426.2 472.0 422.0 472.6 C417.8 473.2 413.2 472.8 409.2 471.5 C405.2 470.3 401.9 466.8 398.2 465.2 C394.4 463.5 390.3 463.3 386.6 461.8 C382.9 460.4 379.3 458.5 376.0 456.5 C372.7 454.4 370.0 451.8 366.8 449.5 C363.6 447.2 359.6 445.4 356.8 442.8 C354.1 440.1 352.2 436.7 350.3 433.4 C348.5 430.2 346.5 426.8 345.7 423.3 C344.9 419.8 345.4 416.0 345.7 412.4 C345.9 408.8 347.7 405.5 347.1 402.0 C346.6 398.5 343.2 394.8 342.5 391.2 C341.9 387.5 341.9 383.4 343.4 380.0 C344.8 376.6 348.4 373.7 351.0 370.9 C353.6 368.0 356.4 365.3 359.2 362.7 C362.1 360.2 365.5 358.3 368.2 355.7 C370.9 353.0 372.6 349.4 375.4 346.8 C378.3 344.2 381.6 341.6 385.3 340.1 C389.0 338.5 393.6 338.4 397.6 337.3 C401.6 336.2 405.3 333.9 409.4 333.4 C413.4 332.8 417.9 333.5 422.0 334.2 C426.1 334.9 429.9 336.8 433.9 337.5 C437.9 338.1 442.0 337.6 446.1 338.1 C450.2 338.6 454.4 339.4 458.5 340.4 C462.5 341.5 467.3 342.3 470.6 344.5 C473.9 346.7 476.3 350.2 478.3 353.5 C480.3 356.8 480.2 361.3 482.3 364.3 C484.5 367.3 488.7 368.9 491.4 371.6 C494.1 374.3 497.0 377.3 498.7 380.6 C500.3 383.8 500.8 387.6 501.4 391.2 C502.0 394.7 502.7 398.4 502.3 402.0Z" fill="#b84a48" />
<g stroke="#e8e060" stroke-width="3" opacity="0.6"><path d="M370 360 L480 440"/><path d="M370 440 L480 360"/><path d="M425 340 V460"/></g>
<g fill="#e03030" opacity="0.8">
<circle cx="424" cy="430" r="6"/>
<circle cx="397" cy="424" r="6"/>
<circle cx="419" cy="400" r="6"/>
<circle cx="472" cy="406" r="6"/>
<circle cx="421" cy="414" r="6"/>
<circle cx="450" cy="401" r="6"/>
<circle cx="437" cy="381" r="6"/>
<circle cx="416" cy="396" r="6"/>
<circle cx="387" cy="369" r="6"/>
<circle cx="378" cy="397" r="6"/>
<circle cx="420" cy="399" r="6"/>
<circle cx="424" cy="372" r="6"/>
<circle cx="421" cy="404" r="6"/>
<circle cx="441" cy="384" r="6"/>
</g>
<circle cx="425" cy="400" r="7" fill="#f4f4e0"/>
</g></svg>
<svg id="ct1" x="320" y="420" width="230" height="265" viewBox="0 0 822 947" overflow="hidden">
<defs>
<clipPath id="c1clip"><rect x="33" y="12" width="767" height="913"/></clipPath>
<filter id="c1b" x="-10%" y="-10%" width="120%" height="120%"><feGaussianBlur stdDeviation="3"/></filter>
<filter id="c1b2" x="-10%" y="-10%" width="120%" height="120%"><feGaussianBlur stdDeviation="7"/></filter>
<filter id="c1b1" x="-10%" y="-10%" width="120%" height="120%"><feGaussianBlur stdDeviation="1.8"/></filter>
<linearGradient id="c1mus" x1="0" y1="0" x2="0" y2="1"><stop offset="0" stop-color="#8c8c8c"/><stop offset="0.45" stop-color="#888888"/><stop offset="0.7" stop-color="#585858"/><stop offset="1" stop-color="#606060"/></linearGradient>
</defs>
<rect x="33" y="12" width="767" height="913" fill="#000"/>
<g clip-path="url(#c1clip)">
<g filter="url(#c1b)">
<path d="M1400.0 -12.0 C1316.7 -12.0 1040.0 -12.3 900.0 -12.0 C760.0 -11.7 633.3 -14.3 560.0 -10.0 C486.7 -5.7 499.5 6.8 460.0 14.0 C420.5 21.2 358.5 22.3 323.0 33.0 C287.5 43.7 269.8 57.7 247.0 78.0 C224.2 98.3 207.2 123.5 186.0 155.0 C164.8 186.5 139.5 228.8 120.0 267.0 C100.5 305.2 81.7 348.2 69.0 384.0 C56.3 419.8 49.0 455.2 44.0 482.0 C39.0 508.8 39.0 522.5 39.0 545.0 C39.0 567.5 39.0 588.0 44.0 617.0 C49.0 646.0 58.0 685.0 69.0 719.0 C80.0 753.0 93.0 786.7 110.0 821.0 C127.0 855.3 156.0 896.8 171.0 925.0 C186.0 953.2 -4.8 979.2 200.0 990.0 C404.8 1000.8 1200.0 990.0 1400.0 990.0Z" fill="#3c3c3c" stroke="#8a8a8a" stroke-width="7"/>
<path d="M1400.0 50.0 C1316.7 50.0 1033.3 50.0 900.0 50.0 C766.7 50.0 673.0 50.5 600.0 50.0 C527.0 49.5 506.5 45.2 462.0 47.0 C417.5 48.8 365.8 51.8 333.0 61.0 C300.2 70.2 285.5 83.3 265.0 102.0 C244.5 120.7 229.7 143.3 210.0 173.0 C190.3 202.7 165.7 243.5 147.0 280.0 C128.3 316.5 109.8 357.8 98.0 392.0 C86.2 426.2 81.0 457.0 76.0 485.0 C71.0 513.0 68.3 534.2 68.0 560.0 C67.7 585.8 67.8 612.5 74.0 640.0 C80.2 667.5 90.7 697.5 105.0 725.0 C119.3 752.5 139.2 780.8 160.0 805.0 C180.8 829.2 206.7 850.0 230.0 870.0 C253.3 890.0 285.0 905.0 300.0 925.0 C315.0 945.0 136.7 979.2 320.0 990.0 C503.3 1000.8 1220.0 990.0 1400.0 990.0Z" fill="url(#c1mus)" />
<path d="M330.0 108.0 C338.3 105.3 363.3 96.7 380.0 92.0 C396.7 87.3 413.3 82.7 430.0 80.0 C446.7 77.3 465.0 75.3 480.0 76.0 C495.0 76.7 513.3 82.7 520.0 84.0" fill="none" stroke="#444" stroke-width="16" />
<path d="M500.0 104.0 C502.8 103.5 502.3 103.8 517.0 101.0 C531.7 98.2 561.3 92.5 588.0 87.0 C614.7 81.5 650.5 69.7 677.0 68.0 C703.5 66.3 727.0 71.8 747.0 77.0 C767.0 82.2 783.2 91.8 797.0 99.0 C810.8 106.2 824.5 116.5 830.0 120.0" fill="none" stroke="#3e3e3e" stroke-width="22" />
<path d="M560.0 120.0 C564.2 99.0 580.5 110.0 600.0 104.0 C619.5 98.0 652.5 86.0 677.0 84.0 C701.5 82.0 726.5 86.7 747.0 92.0 C767.5 97.3 786.2 106.3 800.0 116.0 C813.8 125.7 825.0 131.0 830.0 150.0 C835.0 169.0 872.5 216.7 830.0 230.0 C787.5 243.3 620.0 248.3 575.0 230.0 C530.0 211.7 555.8 141.0 560.0 120.0Z" fill="#787878" />
<path d="M585.0 108.0 C575.5 99.3 542.7 99.3 520.0 98.0 C497.3 96.7 477.5 97.0 449.0 100.0 C420.5 103.0 380.2 98.7 349.0 116.0 C317.8 133.3 283.2 175.8 262.0 204.0 C240.8 232.2 237.2 259.5 222.0 285.0 C206.8 310.5 185.5 332.3 171.0 357.0 C156.5 381.7 142.8 412.2 135.0 433.0 C127.2 453.8 129.0 463.3 124.0 482.0 C119.0 500.7 109.2 522.5 105.0 545.0 C100.8 567.5 94.0 590.5 99.0 617.0 C104.0 643.5 116.3 675.2 135.0 704.0 C153.7 732.8 190.7 770.5 211.0 790.0 C231.3 809.5 238.3 813.8 257.0 821.0 C275.7 828.2 300.3 835.5 323.0 833.0 C345.7 830.5 368.7 819.5 393.0 806.0 C417.3 792.5 451.2 775.0 469.0 752.0 C486.8 729.0 490.7 694.7 500.0 668.0 C509.3 641.3 514.8 609.8 525.0 592.0 C535.2 574.2 545.2 574.7 561.0 561.0 C576.8 547.3 604.8 530.2 620.0 510.0 C635.2 489.8 648.7 458.0 652.0 440.0 C655.3 422.0 648.7 411.0 640.0 402.0 C631.3 393.0 616.7 387.7 600.0 386.0 C583.3 384.3 560.0 395.0 540.0 392.0 C520.0 389.0 483.3 375.0 480.0 368.0 C476.7 361.0 500.3 356.3 520.0 350.0 C539.7 343.7 583.7 340.0 598.0 330.0 C612.3 320.0 606.0 305.0 606.0 290.0 C606.0 275.0 601.5 258.3 598.0 240.0 C594.5 221.7 588.5 195.0 585.0 180.0 C581.5 165.0 577.0 162.0 577.0 150.0 C577.0 138.0 594.5 116.7 585.0 108.0Z" fill="#9a9a9a" />
<path d="M470.0 372.0 C476.7 359.8 519.7 354.0 545.0 345.0 C570.3 336.0 596.2 325.5 622.0 318.0 C647.8 310.5 665.3 306.3 700.0 300.0 C734.7 293.7 808.3 246.7 830.0 280.0 C851.7 313.3 840.0 467.0 830.0 500.0 C820.0 533.0 791.7 485.5 770.0 478.0 C748.3 470.5 717.0 464.7 700.0 455.0 C683.0 445.3 678.0 429.5 668.0 420.0 C658.0 410.5 651.3 403.7 640.0 398.0 C628.7 392.3 615.8 386.0 600.0 386.0 C584.2 386.0 560.8 392.7 545.0 398.0 C529.2 403.3 517.5 422.3 505.0 418.0 C492.5 413.7 463.3 384.2 470.0 372.0Z" fill="#3b3b3b" />
<path d="M640.0 330.0 C650.0 323.7 688.3 317.0 720.0 312.0 C751.7 307.0 811.7 295.3 830.0 300.0 C848.3 304.7 848.3 332.5 830.0 340.0 C811.7 347.5 748.3 343.3 720.0 345.0 C691.7 346.7 673.3 352.5 660.0 350.0 C646.7 347.5 630.0 336.3 640.0 330.0Z" fill="#4c4c4c" />
<path d="M575.0 600.0 C571.7 588.3 589.2 560.0 600.0 540.0 C610.8 520.0 623.3 492.5 640.0 480.0 C656.7 467.5 680.0 463.3 700.0 465.0 C720.0 466.7 743.3 477.5 760.0 490.0 C776.7 502.5 788.3 528.3 800.0 540.0 C811.7 551.7 825.0 533.3 830.0 560.0 C835.0 586.7 841.7 686.7 830.0 700.0 C818.3 713.3 781.7 655.0 760.0 640.0 C738.3 625.0 723.3 615.0 700.0 610.0 C676.7 605.0 640.8 611.7 620.0 610.0 C599.2 608.3 578.3 611.7 575.0 600.0Z" fill="#6e6e6e" />
<path d="M495.0 690.0 C508.3 658.3 509.2 630.3 520.0 610.0 C530.8 589.7 546.7 579.7 560.0 568.0 C573.3 556.3 586.7 554.7 600.0 540.0 C613.3 525.3 630.0 486.7 640.0 480.0 C650.0 473.3 663.3 486.7 660.0 500.0 C656.7 513.3 631.7 543.3 620.0 560.0 C608.3 576.7 600.0 583.3 590.0 600.0 C580.0 616.7 570.0 636.7 560.0 660.0 C550.0 683.3 545.0 718.3 530.0 740.0 C515.0 761.7 485.0 780.0 470.0 790.0 C455.0 800.0 435.8 816.7 440.0 800.0 C444.2 783.3 481.7 721.7 495.0 690.0Z" fill="#787878" />
<path d="M500.0 425.0 C510.3 410.8 536.7 399.2 560.0 395.0 C583.3 390.8 624.2 392.5 640.0 400.0 C655.8 407.5 656.7 421.7 655.0 440.0 C653.3 458.3 640.8 490.8 630.0 510.0 C619.2 529.2 605.0 545.8 590.0 555.0 C575.0 564.2 554.2 568.3 540.0 565.0 C525.8 561.7 512.0 549.2 505.0 535.0 C498.0 520.8 498.8 498.3 498.0 480.0 C497.2 461.7 489.7 439.2 500.0 425.0Z" fill="#a6a6a6" />
<ellipse cx="557" cy="518" rx="56" ry="42" fill="#b0b0b0" />
<ellipse cx="704" cy="556" rx="44" ry="42" fill="#adadad" />
<path d="M257.0 850.0 C262.0 833.3 301.2 876.7 330.0 880.0 C358.8 883.3 398.3 878.3 430.0 870.0 C461.7 861.7 498.3 843.3 520.0 830.0 C541.7 816.7 543.3 795.0 560.0 790.0 C576.7 785.0 575.0 798.3 620.0 800.0 C665.0 801.7 795.0 770.0 830.0 800.0 C865.0 830.0 918.3 950.0 830.0 980.0 C741.7 1010.0 395.5 1001.7 300.0 980.0 C204.5 958.3 252.0 866.7 257.0 850.0Z" fill="#7e7e7e" />
<path d="M171.0 925.0 C169.3 908.3 175.7 892.5 190.0 880.0 C204.3 867.5 238.7 846.7 257.0 850.0 C275.3 853.3 289.5 878.3 300.0 900.0 C310.5 921.7 336.7 966.7 320.0 980.0 C303.3 993.3 224.8 989.2 200.0 980.0 C175.2 970.8 172.7 941.7 171.0 925.0Z" fill="#5c5c5c" />
<path d="M247.0 816.0 C255.8 814.0 298.7 833.7 323.0 833.0 C347.3 832.3 370.3 820.8 393.0 812.0 C415.7 803.2 440.3 795.5 459.0 780.0 C477.7 764.5 491.3 743.5 505.0 719.0 C518.7 694.5 530.0 650.8 541.0 633.0 C552.0 615.2 564.5 610.8 571.0 612.0 C577.5 613.2 580.2 625.3 580.0 640.0 C579.8 654.7 575.8 678.3 570.0 700.0 C564.2 721.7 556.7 748.3 545.0 770.0 C533.3 791.7 516.3 814.7 500.0 830.0 C483.7 845.3 467.0 854.3 447.0 862.0 C427.0 869.7 400.7 874.8 380.0 876.0 C359.3 877.2 341.3 874.2 323.0 869.0 C304.7 863.8 282.7 853.8 270.0 845.0 C257.3 836.2 238.2 818.0 247.0 816.0Z" fill="#000" />
<path d="M760.0 632.0 C764.2 628.7 788.3 662.0 800.0 680.0 C811.7 698.0 825.0 720.0 830.0 740.0 C835.0 760.0 835.0 795.0 830.0 800.0 C825.0 805.0 809.2 786.7 800.0 770.0 C790.8 753.3 781.7 723.0 775.0 700.0 C768.3 677.0 755.8 635.3 760.0 632.0Z" fill="#000" />
<path d="M576.0 185.0 C576.8 174.0 574.3 151.2 585.0 140.0 C595.7 128.8 617.5 122.2 640.0 118.0 C662.5 113.8 697.5 112.2 720.0 115.0 C742.5 117.8 763.0 125.0 775.0 135.0 C787.0 145.0 789.2 163.2 792.0 175.0 C794.8 186.8 827.3 200.8 792.0 206.0 C756.7 211.2 616.0 209.5 580.0 206.0 C544.0 202.5 575.2 196.0 576.0 185.0Z" fill="#000" />
<path d="M597.0 207.0 C629.8 201.5 761.2 204.8 800.0 207.0 C838.8 209.2 825.0 209.5 830.0 220.0 C835.0 230.5 835.8 258.3 830.0 270.0 C824.2 281.7 813.3 284.2 795.0 290.0 C776.7 295.8 742.5 301.5 720.0 305.0 C697.5 308.5 677.5 314.3 660.0 311.0 C642.5 307.7 624.5 296.8 615.0 285.0 C605.5 273.2 606.0 253.0 603.0 240.0 C600.0 227.0 564.2 212.5 597.0 207.0Z" fill="#f0f0f0" />
<ellipse cx="666" cy="672" rx="95" ry="75" fill="#f2f2f2" />
<path d="M551.0 790.0 C551.0 779.2 560.2 757.5 575.0 750.0 C589.8 742.5 619.2 745.8 640.0 745.0 C660.8 744.2 680.0 745.0 700.0 745.0 C720.0 745.0 743.3 742.5 760.0 745.0 C776.7 747.5 788.3 752.5 800.0 760.0 C811.7 767.5 825.0 780.0 830.0 790.0 C835.0 800.0 838.3 815.0 830.0 820.0 C821.7 825.0 794.2 817.5 780.0 820.0 C765.8 822.5 755.8 835.8 745.0 835.0 C734.2 834.2 727.2 815.8 715.0 815.0 C702.8 814.2 686.2 830.0 672.0 830.0 C657.8 830.0 642.0 813.7 630.0 815.0 C618.0 816.3 609.2 838.0 600.0 838.0 C590.8 838.0 583.2 823.0 575.0 815.0 C566.8 807.0 551.0 800.8 551.0 790.0Z" fill="#f6f6f6" />
<ellipse cx="666" cy="670" rx="64" ry="40" fill="#d4d4d4" />
<path d="M626.0 768.0 C629.0 759.2 656.5 742.0 672.0 742.0 C687.5 742.0 716.0 759.2 719.0 768.0 C722.0 776.8 697.8 789.3 690.0 795.0 C682.2 800.7 678.0 802.0 672.0 802.0 C666.0 802.0 661.7 800.7 654.0 795.0 C646.3 789.3 623.0 776.8 626.0 768.0Z" fill="#5e5e5e" />
</g><g filter="url(#c1b1)">
<path d="M640.0 830.0 C638.3 836.7 630.0 854.2 630.0 870.0 C630.0 885.8 638.3 915.8 640.0 925.0" fill="none" stroke="#555" stroke-width="4" />
<path d="M672.0 830.0 C672.5 838.3 675.0 864.2 675.0 880.0 C675.0 895.8 672.5 917.5 672.0 925.0" fill="none" stroke="#555" stroke-width="4" />
<path d="M710.0 830.0 C711.7 836.7 719.2 854.2 720.0 870.0 C720.8 885.8 715.8 915.8 715.0 925.0" fill="none" stroke="#555" stroke-width="4" />
<ellipse cx="505" cy="396" rx="27" ry="22" fill="#cfcfcf" />
<ellipse cx="337" cy="568" rx="31" ry="30" fill="#737373" />
<ellipse cx="340" cy="566" rx="11" ry="11" fill="#8c8c8c" />
<ellipse cx="487" cy="322" rx="15" ry="14" fill="#888" />
<ellipse cx="362" cy="446" rx="14" ry="26" fill="#bebebe" transform="rotate(10 362 446)" />
<path d="M268 330 l12 -8 l14 30 l-10 6z" fill="#b8b8b8"/>
<ellipse cx="210" cy="500" rx="8" ry="8" fill="#7c7c7c" />
<ellipse cx="280" cy="730" rx="7" ry="7" fill="#888" />
<path d="M510.0 104.0 C503.3 104.0 480.2 103.0 470.0 104.0 C459.8 105.0 453.7 102.3 449.0 110.0 C444.3 117.7 442.5 136.0 442.0 150.0 C441.5 164.0 445.3 186.7 446.0 194.0" fill="none" stroke="#454545" stroke-width="5" />
<path d="M255.0 150.0 C253.3 155.8 248.8 174.2 245.0 185.0 C241.2 195.8 234.2 210.0 232.0 215.0" fill="none" stroke="#333" stroke-width="8" stroke-dasharray="10 6"/>
<path d="M250.0 222.0 C253.0 216.7 260.5 201.2 268.0 190.0 C275.5 178.8 283.8 166.7 295.0 155.0 C306.2 143.3 322.5 128.5 335.0 120.0 C347.5 111.5 364.2 106.7 370.0 104.0" fill="none" stroke="#484848" stroke-width="6" />
<ellipse cx="185" cy="292" rx="19" ry="41" fill="#ececec" transform="rotate(22 185 292)" />
<ellipse cx="183" cy="300" rx="7" ry="16" fill="#8a8a8a" transform="rotate(22 183 300)" />
<ellipse cx="112" cy="460" rx="11" ry="32" fill="#fff" transform="rotate(8 112 460)" />
<ellipse cx="173" cy="749" rx="12" ry="56" fill="#fff" transform="rotate(-36 173 749)" />
<ellipse cx="393" cy="889" rx="40" ry="15" fill="#fff" transform="rotate(-4 393 889)" />
<ellipse cx="393" cy="889" rx="18" ry="4" fill="#b0b0b0" transform="rotate(-4 393 889)" />
<ellipse cx="795" cy="470" rx="6" ry="25" fill="#ddd" />
</g></g></svg>
<svg id="ct2" x="650" y="420" width="230" height="265" viewBox="0 0 822 947" overflow="hidden">
<defs>
<clipPath id="c2clip"><rect x="28" y="22" width="744" height="908"/></clipPath>
<filter id="c2b" x="-10%" y="-10%" width="120%" height="120%"><feGaussianBlur stdDeviation="3"/></filter>
<filter id="c2b1" x="-10%" y="-10%" width="120%" height="120%"><feGaussianBlur stdDeviation="1.8"/></filter>
<filter id="c2n" x="0" y="0" width="100%" height="100%"><feTurbulence type="fractalNoise" baseFrequency="0.09" numOctaves="2" seed="4"/><feColorMatrix type="matrix" values="0 0 0 0 0.35  0 0 0 0 0.35  0 0 0 0 0.35  0 0 0 -3.2 1.45"/><feGaussianBlur stdDeviation="1.8"/><feComposite in2="SourceAlpha" operator="in"/></filter>
<linearGradient id="c2mus" x1="0" y1="0" x2="0" y2="1"><stop offset="0" stop-color="#8a8a8a"/><stop offset="0.5" stop-color="#808080"/><stop offset="0.75" stop-color="#505050"/><stop offset="1" stop-color="#585858"/></linearGradient>
</defs>
<rect x="28" y="22" width="744" height="908" fill="#000"/>
<g clip-path="url(#c2clip)">
<g filter="url(#c2b)">
<path d="M1400.0 -5.0 C1316.7 -5.0 1033.3 -6.2 900.0 -5.0 C766.7 -3.8 673.7 -3.3 600.0 2.0 C526.3 7.3 502.2 19.7 458.0 27.0 C413.8 34.3 368.5 36.7 335.0 46.0 C301.5 55.3 279.5 68.7 257.0 83.0 C234.5 97.3 217.7 113.0 200.0 132.0 C182.3 151.0 167.3 172.5 151.0 197.0 C134.7 221.5 117.2 246.5 102.0 279.0 C86.8 311.5 70.3 356.8 60.0 392.0 C49.7 427.2 43.7 460.3 40.0 490.0 C36.3 519.7 37.0 540.8 38.0 570.0 C39.0 599.2 38.5 632.2 46.0 665.0 C53.5 697.8 68.0 736.5 83.0 767.0 C98.0 797.5 119.0 826.3 136.0 848.0 C153.0 869.7 171.3 884.7 185.0 897.0 C198.7 909.3 208.0 913.2 218.0 922.0 C228.0 930.8 236.3 937.8 245.0 950.0 C253.7 962.2 77.5 987.5 270.0 995.0 C462.5 1002.5 1211.7 995.0 1400.0 995.0Z" fill="#3c3c3c" stroke="#8c8c8c" stroke-width="7"/>
<path d="M1400.0 58.0 C1316.7 58.0 1033.3 58.0 900.0 58.0 C766.7 58.0 671.7 57.7 600.0 58.0 C528.3 58.3 510.8 56.7 470.0 60.0 C429.2 63.3 386.7 69.3 355.0 78.0 C323.3 86.7 301.7 98.3 280.0 112.0 C258.3 125.7 242.0 141.7 225.0 160.0 C208.0 178.3 193.5 198.7 178.0 222.0 C162.5 245.3 146.3 269.5 132.0 300.0 C117.7 330.5 102.0 370.8 92.0 405.0 C82.0 439.2 75.3 474.2 72.0 505.0 C68.7 535.8 69.8 560.8 72.0 590.0 C74.2 619.2 76.2 649.2 85.0 680.0 C93.8 710.8 109.2 747.5 125.0 775.0 C140.8 802.5 160.8 824.2 180.0 845.0 C199.2 865.8 221.7 885.8 240.0 900.0 C258.3 914.2 276.7 914.2 290.0 930.0 C303.3 945.8 135.0 984.2 320.0 995.0 C505.0 1005.8 1220.0 995.0 1400.0 995.0Z" fill="url(#c2mus)" />
<path d="M470.0 92.0 C483.3 86.3 525.0 86.3 560.0 84.0 C595.0 81.7 640.0 78.0 680.0 78.0 C720.0 78.0 780.0 78.7 800.0 84.0 C820.0 89.3 818.3 107.3 800.0 110.0 C781.7 112.7 723.3 101.3 690.0 100.0 C656.7 98.7 635.0 99.0 600.0 102.0 C565.0 105.0 501.7 119.7 480.0 118.0 C458.3 116.3 456.7 97.7 470.0 92.0Z" fill="#303030" />
<path d="M620.0 118.0 C611.3 108.0 585.0 110.3 560.0 110.0 C535.0 109.7 500.0 115.7 470.0 116.0 C440.0 116.3 407.5 110.7 380.0 112.0 C352.5 113.3 326.7 109.3 305.0 124.0 C283.3 138.7 267.5 175.7 250.0 200.0 C232.5 224.3 214.2 250.0 200.0 270.0 C185.8 290.0 177.5 295.0 165.0 320.0 C152.5 345.0 135.3 386.7 125.0 420.0 C114.7 453.3 106.0 486.7 103.0 520.0 C100.0 553.3 100.8 587.5 107.0 620.0 C113.2 652.5 122.8 688.3 140.0 715.0 C157.2 741.7 183.3 765.8 210.0 780.0 C236.7 794.2 271.7 798.7 300.0 800.0 C328.3 801.3 355.0 797.7 380.0 788.0 C405.0 778.3 431.7 760.0 450.0 742.0 C468.3 724.0 479.7 701.7 490.0 680.0 C500.3 658.3 500.3 630.0 512.0 612.0 C523.7 594.0 543.7 587.3 560.0 572.0 C576.3 556.7 596.7 542.0 610.0 520.0 C623.3 498.0 637.5 460.0 640.0 440.0 C642.5 420.0 633.3 411.3 625.0 400.0 C616.7 388.7 604.2 377.8 590.0 372.0 C575.8 366.2 558.3 368.3 540.0 365.0 C521.7 361.7 500.0 352.5 480.0 352.0 C460.0 351.5 420.0 363.7 420.0 362.0 C420.0 360.3 456.7 346.7 480.0 342.0 C503.3 337.3 540.0 338.0 560.0 334.0 C580.0 330.0 589.3 325.7 600.0 318.0 C610.7 310.3 623.7 304.0 624.0 288.0 C624.3 272.0 604.0 241.7 602.0 222.0 C600.0 202.3 609.0 187.3 612.0 170.0 C615.0 152.7 628.7 128.0 620.0 118.0Z" fill="#a0a0a0" />
<ellipse cx="228" cy="198" rx="14" ry="70" fill="#a2a2a2" transform="rotate(33 228 198)" />
<path d="M300.0 128.0 C293.7 136.7 273.3 161.3 262.0 180.0 C250.7 198.7 241.5 221.7 232.0 240.0 C222.5 258.3 209.5 281.7 205.0 290.0" fill="none" stroke="#444" stroke-width="6" />
<path d="M420.0 362.0 C423.3 359.0 472.5 343.3 500.0 338.0 C527.5 332.7 564.2 338.3 585.0 330.0 C605.8 321.7 612.5 293.0 625.0 288.0 C637.5 283.0 647.5 289.7 660.0 300.0 C672.5 310.3 686.7 330.0 700.0 350.0 C713.3 370.0 723.3 405.0 740.0 420.0 C756.7 435.0 790.0 406.7 800.0 440.0 C810.0 473.3 810.0 600.0 800.0 620.0 C790.0 640.0 756.7 580.0 740.0 560.0 C723.3 540.0 713.3 513.3 700.0 500.0 C686.7 486.7 670.0 490.0 660.0 480.0 C650.0 470.0 645.8 453.3 640.0 440.0 C634.2 426.7 633.3 411.0 625.0 400.0 C616.7 389.0 604.2 379.7 590.0 374.0 C575.8 368.3 558.3 369.0 540.0 366.0 C521.7 363.0 500.0 356.7 480.0 356.0 C460.0 355.3 416.7 365.0 420.0 362.0Z" fill="#404040" />
<path d="M560.0 600.0 C558.3 585.8 576.7 556.7 590.0 540.0 C603.3 523.3 621.7 508.3 640.0 500.0 C658.3 491.7 683.3 485.0 700.0 490.0 C716.7 495.0 730.0 511.7 740.0 530.0 C750.0 548.3 750.0 575.0 760.0 600.0 C770.0 625.0 793.3 660.0 800.0 680.0 C806.7 700.0 810.0 726.7 800.0 720.0 C790.0 713.3 760.0 656.7 740.0 640.0 C720.0 623.3 703.3 622.5 680.0 620.0 C656.7 617.5 620.0 628.3 600.0 625.0 C580.0 621.7 561.7 614.2 560.0 600.0Z" fill="#727272" />
<path d="M470.0 740.0 C470.0 721.3 491.7 690.0 500.0 668.0 C508.3 646.0 510.0 624.3 520.0 608.0 C530.0 591.7 546.7 581.3 560.0 570.0 C573.3 558.7 590.0 541.7 600.0 540.0 C610.0 538.3 622.5 550.0 620.0 560.0 C617.5 570.0 595.0 585.0 585.0 600.0 C575.0 615.0 567.5 630.0 560.0 650.0 C552.5 670.0 550.0 698.3 540.0 720.0 C530.0 741.7 511.7 776.7 500.0 780.0 C488.3 783.3 470.0 758.7 470.0 740.0Z" fill="#7a7a7a" />
<path d="M365.0 420.0 C370.0 412.5 382.5 404.7 400.0 400.0 C417.5 395.3 448.3 392.0 470.0 392.0 C491.7 392.0 518.3 393.7 530.0 400.0 C541.7 406.3 548.3 423.3 540.0 430.0 C531.7 436.7 503.3 436.3 480.0 440.0 C456.7 443.7 418.3 451.2 400.0 452.0 C381.7 452.8 375.8 450.3 370.0 445.0 C364.2 439.7 360.0 427.5 365.0 420.0Z" fill="#b2b2b2" />
<path d="M480.0 470.0 C489.2 456.7 520.0 451.7 540.0 440.0 C560.0 428.3 583.3 403.3 600.0 400.0 C616.7 396.7 633.3 410.0 640.0 420.0 C646.7 430.0 646.7 445.0 640.0 460.0 C633.3 475.0 613.3 493.3 600.0 510.0 C586.7 526.7 575.0 551.7 560.0 560.0 C545.0 568.3 522.5 566.7 510.0 560.0 C497.5 553.3 490.0 535.0 485.0 520.0 C480.0 505.0 470.8 483.3 480.0 470.0Z" fill="#a8a8a8" />
<ellipse cx="548" cy="515" rx="52" ry="42" fill="#aeaeae" />
<ellipse cx="602" cy="415" rx="32" ry="30" fill="#a8a8a8" />
<ellipse cx="676" cy="556" rx="42" ry="40" fill="#a8a8a8" />
<path d="M240.0 860.0 C245.0 841.7 298.3 878.3 330.0 880.0 C361.7 881.7 400.0 878.3 430.0 870.0 C460.0 861.7 490.8 843.3 510.0 830.0 C529.2 816.7 526.7 793.3 545.0 790.0 C563.3 786.7 572.5 808.3 620.0 810.0 C667.5 811.7 795.0 770.0 830.0 800.0 C865.0 830.0 918.3 958.3 830.0 990.0 C741.7 1021.7 398.3 1011.7 300.0 990.0 C201.7 968.3 235.0 878.3 240.0 860.0Z" fill="#7e7e7e" />
<path d="M215.0 795.0 C221.7 789.3 272.5 814.2 300.0 816.0 C327.5 817.8 356.7 812.3 380.0 806.0 C403.3 799.7 421.7 792.0 440.0 778.0 C458.3 764.0 476.7 741.7 490.0 722.0 C503.3 702.3 511.7 676.2 520.0 660.0 C528.3 643.8 533.3 631.7 540.0 625.0 C546.7 618.3 556.3 610.8 560.0 620.0 C563.7 629.2 563.7 660.0 562.0 680.0 C560.3 700.0 557.0 720.0 550.0 740.0 C543.0 760.0 538.3 780.0 520.0 800.0 C501.7 820.0 471.7 848.0 440.0 860.0 C408.3 872.0 360.0 873.7 330.0 872.0 C300.0 870.3 279.2 862.8 260.0 850.0 C240.8 837.2 208.3 800.7 215.0 795.0Z" fill="#000" />
<path d="M735.0 625.0 C739.5 623.3 761.2 667.5 772.0 690.0 C782.8 712.5 795.3 741.7 800.0 760.0 C804.7 778.3 806.7 800.0 800.0 800.0 C793.3 800.0 769.2 776.7 760.0 760.0 C750.8 743.3 749.2 722.5 745.0 700.0 C740.8 677.5 730.5 626.7 735.0 625.0Z" fill="#000" />
<path d="M622.0 170.0 C631.7 156.3 643.7 150.0 660.0 150.0 C676.3 150.0 696.7 168.3 720.0 170.0 C743.3 171.7 786.7 115.0 800.0 160.0 C813.3 205.0 804.7 394.7 800.0 440.0 C795.3 485.3 785.0 438.3 772.0 432.0 C759.0 425.7 735.7 417.0 722.0 402.0 C708.3 387.0 703.3 360.3 690.0 342.0 C676.7 323.7 656.7 310.3 642.0 292.0 C627.3 273.7 605.3 252.3 602.0 232.0 C598.7 211.7 612.3 183.7 622.0 170.0Z" fill="#e6e6e6" />
<path d="M640.0 150.0 C640.0 142.8 645.0 128.7 655.0 122.0 C665.0 115.3 682.5 111.7 700.0 110.0 C717.5 108.3 743.3 110.7 760.0 112.0 C776.7 113.3 793.3 109.2 800.0 118.0 C806.7 126.8 806.7 159.7 800.0 165.0 C793.3 170.3 773.3 149.5 760.0 150.0 C746.7 150.5 733.3 168.0 720.0 168.0 C706.7 168.0 690.8 150.5 680.0 150.0 C669.2 149.5 661.7 165.0 655.0 165.0 C648.3 165.0 640.0 157.2 640.0 150.0Z" fill="#000" />
<ellipse cx="646" cy="682" rx="92" ry="62" fill="#f0f0f0" />
<path d="M560.0 800.0 C557.5 792.5 561.7 764.7 575.0 755.0 C588.3 745.3 619.2 744.2 640.0 742.0 C660.8 739.8 680.0 740.7 700.0 742.0 C720.0 743.3 743.3 744.5 760.0 750.0 C776.7 755.5 793.3 765.0 800.0 775.0 C806.7 785.0 806.7 805.8 800.0 810.0 C793.3 814.2 773.3 801.7 760.0 800.0 C746.7 798.3 731.7 797.5 720.0 800.0 C708.3 802.5 700.8 808.7 690.0 815.0 C679.2 821.3 666.7 838.5 655.0 838.0 C643.3 837.5 630.8 818.3 620.0 812.0 C609.2 805.7 600.0 802.0 590.0 800.0 C580.0 798.0 562.5 807.5 560.0 800.0Z" fill="#f4f4f4" />
<ellipse cx="646" cy="686" rx="58" ry="30" fill="#d2d2d2" />
<path d="M608.0 764.0 C611.3 756.5 635.7 745.0 650.0 745.0 C664.3 745.0 690.7 756.5 694.0 764.0 C697.3 771.5 677.3 784.3 670.0 790.0 C662.7 795.7 656.7 798.0 650.0 798.0 C643.3 798.0 637.0 795.7 630.0 790.0 C623.0 784.3 604.7 771.5 608.0 764.0Z" fill="#666" />
</g>
<path d="M622.0 170.0 C631.7 156.3 643.7 150.0 660.0 150.0 C676.3 150.0 696.7 168.3 720.0 170.0 C743.3 171.7 786.7 115.0 800.0 160.0 C813.3 205.0 804.7 394.7 800.0 440.0 C795.3 485.3 785.0 438.3 772.0 432.0 C759.0 425.7 735.7 417.0 722.0 402.0 C708.3 387.0 703.3 360.3 690.0 342.0 C676.7 323.7 656.7 310.3 642.0 292.0 C627.3 273.7 605.3 252.3 602.0 232.0 C598.7 211.7 612.3 183.7 622.0 170.0Z" fill="#555" filter="url(#c2n)" opacity="0.7"/>
<g filter="url(#c2b1)">
<path d="M600.0 100.0 C590.0 101.0 559.2 102.7 540.0 106.0 C520.8 109.3 496.0 112.7 485.0 120.0 C474.0 127.3 475.3 139.0 474.0 150.0 C472.7 161.0 476.5 180.0 477.0 186.0" fill="none" stroke="#3c3c3c" stroke-width="6" />
<path d="M385.0 265.0 C386.7 270.8 390.8 287.5 395.0 300.0 C399.2 312.5 407.5 333.3 410.0 340.0" fill="none" stroke="#969696" stroke-width="3" />
<ellipse cx="326" cy="545" rx="22" ry="22" fill="#939393" />
<ellipse cx="297" cy="130" rx="6" ry="6" fill="#ddd" />
<ellipse cx="470" cy="350" rx="7" ry="7" fill="#c8c8c8" />
<ellipse cx="515" cy="357" rx="7" ry="7" fill="#c8c8c8" />
<ellipse cx="550" cy="368" rx="7" ry="7" fill="#c8c8c8" />
<ellipse cx="655" cy="440" rx="7" ry="7" fill="#c8c8c8" />
<ellipse cx="730" cy="450" rx="7" ry="7" fill="#c8c8c8" />
<ellipse cx="755" cy="490" rx="7" ry="7" fill="#c8c8c8" />
<path d="M620.0 830.0 C619.2 836.7 614.2 853.3 615.0 870.0 C615.8 886.7 623.3 920.0 625.0 930.0" fill="none" stroke="#555" stroke-width="4" />
<path d="M655.0 840.0 C655.0 846.7 655.8 865.0 655.0 880.0 C654.2 895.0 650.8 921.7 650.0 930.0" fill="none" stroke="#555" stroke-width="4" />
<path d="M700.0 830.0 C700.8 836.7 705.0 853.3 705.0 870.0 C705.0 886.7 700.8 920.0 700.0 930.0" fill="none" stroke="#555" stroke-width="4" />
<ellipse cx="108" cy="428" rx="10" ry="35" fill="#fff" transform="rotate(8 108 428)" />
<ellipse cx="155" cy="735" rx="11" ry="55" fill="#fff" transform="rotate(-36 155 735)" />
<ellipse cx="370" cy="886" rx="40" ry="14" fill="#fff" transform="rotate(-5 370 886)" />
<ellipse cx="370" cy="886" rx="18" ry="4" fill="#bbb" transform="rotate(-5 370 886)" />
<ellipse cx="541" cy="776" rx="17" ry="22" fill="#fff" transform="rotate(30 541 776)" />
<ellipse cx="541" cy="776" rx="7" ry="11" fill="#777" transform="rotate(30 541 776)" />
</g></g></svg>
<svg id="ct3" x="320" y="682" width="230" height="265" viewBox="0 0 822 947" overflow="hidden">
<defs>
<clipPath id="c3clip"><rect x="33" y="32" width="767" height="920"/></clipPath>
<filter id="c3b" x="-10%" y="-10%" width="120%" height="120%"><feGaussianBlur stdDeviation="3"/></filter>
<filter id="c3b1" x="-10%" y="-10%" width="120%" height="120%"><feGaussianBlur stdDeviation="1.8"/></filter>
</defs>
<rect x="33" y="32" width="767" height="920" fill="#000"/>
<g clip-path="url(#c3clip)">
<g filter="url(#c3b)">
<path d="M1400.0 32.0 C1316.7 32.3 1000.0 33.3 900.0 34.0 C800.0 34.7 846.3 35.0 800.0 36.0 C753.7 37.0 677.8 38.2 622.0 40.0 C566.2 41.8 511.7 42.2 465.0 47.0 C418.3 51.8 375.5 60.5 342.0 69.0 C308.5 77.5 287.8 85.0 264.0 98.0 C240.2 111.0 218.0 128.0 199.0 147.0 C180.0 166.0 165.0 188.8 150.0 212.0 C135.0 235.2 123.0 256.0 109.0 286.0 C95.0 316.0 76.8 361.3 66.0 392.0 C55.2 422.7 48.3 447.8 44.0 470.0 C39.7 492.2 39.0 503.3 40.0 525.0 C41.0 546.7 44.5 576.2 50.0 600.0 C55.5 623.8 60.5 639.3 73.0 668.0 C85.5 696.7 101.5 741.0 125.0 772.0 C148.5 803.0 186.8 831.7 214.0 854.0 C241.2 876.3 267.5 893.0 288.0 906.0 C308.5 919.0 313.3 923.5 337.0 932.0 C360.7 940.5 402.8 945.7 430.0 957.0 C457.2 968.3 338.3 992.8 500.0 1000.0 C661.7 1007.2 1250.0 1000.0 1400.0 1000.0Z" fill="#303030" stroke="#8c8c8c" stroke-width="7"/>
<path d="M1400.0 90.0 C1316.7 90.0 1016.7 90.3 900.0 90.0 C783.3 89.7 753.3 88.7 700.0 88.0 C646.7 87.3 618.7 86.3 580.0 86.0 C541.3 85.7 505.5 82.8 468.0 86.0 C430.5 89.2 385.5 97.5 355.0 105.0 C324.5 112.5 306.3 119.7 285.0 131.0 C263.7 142.3 244.5 156.0 227.0 173.0 C209.5 190.0 194.3 211.7 180.0 233.0 C165.7 254.3 154.3 273.2 141.0 301.0 C127.7 328.8 110.2 371.0 100.0 400.0 C89.8 429.0 84.0 451.7 80.0 475.0 C76.0 498.3 75.0 519.2 76.0 540.0 C77.0 560.8 80.3 578.3 86.0 600.0 C91.7 621.7 97.7 645.0 110.0 670.0 C122.3 695.0 140.0 726.7 160.0 750.0 C180.0 773.3 209.0 794.0 230.0 810.0 C251.0 826.0 264.0 832.3 286.0 846.0 C308.0 859.7 334.0 879.7 362.0 892.0 C390.0 904.3 424.2 916.7 454.0 920.0 C483.8 923.3 516.3 917.7 541.0 912.0 C565.7 906.3 583.3 895.8 602.0 886.0 C620.7 876.2 637.7 859.3 653.0 853.0 C668.3 846.7 678.7 845.0 694.0 848.0 C709.3 851.0 727.8 864.7 745.0 871.0 C762.2 877.3 771.2 881.2 797.0 886.0 C822.8 890.8 799.5 897.7 900.0 900.0 C1000.5 902.3 1316.7 900.0 1400.0 900.0Z" fill="#7e7e7e" />
<path d="M460.0 140.0 C481.7 110.0 538.3 125.0 600.0 120.0 C661.7 115.0 791.7 36.7 830.0 110.0 C868.3 183.3 868.3 485.0 830.0 560.0 C791.7 635.0 658.3 566.7 600.0 560.0 C541.7 553.3 501.7 563.3 480.0 520.0 C458.3 476.7 473.3 363.3 470.0 300.0 C466.7 236.7 438.3 170.0 460.0 140.0Z" fill="#3a3a3a" />
<path d="M470.0 160.0 C477.5 151.3 503.3 148.0 520.0 148.0 C536.7 148.0 563.3 151.3 570.0 160.0 C576.7 168.7 570.0 190.8 560.0 200.0 C550.0 209.2 524.2 215.0 510.0 215.0 C495.8 215.0 481.7 209.2 475.0 200.0 C468.3 190.8 462.5 168.7 470.0 160.0Z" fill="#8a8a8a" />
<path d="M745.0 150.0 C751.7 141.7 785.8 140.0 800.0 140.0 C814.2 140.0 825.0 135.0 830.0 150.0 C835.0 165.0 836.7 219.2 830.0 230.0 C823.3 240.8 801.7 221.7 790.0 215.0 C778.3 208.3 767.5 200.8 760.0 190.0 C752.5 179.2 738.3 158.3 745.0 150.0Z" fill="#8a8a8a" />
<path d="M460.0 150.0 C449.0 141.3 422.5 148.0 400.0 150.0 C377.5 152.0 349.8 147.5 325.0 162.0 C300.2 176.5 272.0 211.0 251.0 237.0 C230.0 263.0 215.0 289.7 199.0 318.0 C183.0 346.3 166.8 377.8 155.0 407.0 C143.2 436.2 131.7 467.5 128.0 493.0 C124.3 518.5 127.7 533.5 133.0 560.0 C138.3 586.5 145.5 623.3 160.0 652.0 C174.5 680.7 198.3 712.0 220.0 732.0 C241.7 752.0 265.0 765.2 290.0 772.0 C315.0 778.8 345.0 778.0 370.0 773.0 C395.0 768.0 423.3 757.2 440.0 742.0 C456.7 726.8 464.0 705.3 470.0 682.0 C476.0 658.7 474.2 628.7 476.0 602.0 C477.8 575.3 477.7 542.0 481.0 522.0 C484.3 502.0 496.0 495.3 496.0 482.0 C496.0 468.7 490.2 452.0 481.0 442.0 C471.8 432.0 444.3 432.0 441.0 422.0 C437.7 412.0 456.0 402.0 461.0 382.0 C466.0 362.0 470.2 332.0 471.0 302.0 C471.8 272.0 467.8 227.3 466.0 202.0 C464.2 176.7 471.0 158.7 460.0 150.0Z" fill="#9a9a9a" />
<path d="M140.0 470.0 C148.3 441.7 173.3 435.0 200.0 430.0 C226.7 425.0 276.7 425.0 300.0 440.0 C323.3 455.0 336.7 486.7 340.0 520.0 C343.3 553.3 333.3 606.7 320.0 640.0 C306.7 673.3 280.0 710.0 260.0 720.0 C240.0 730.0 218.3 720.0 200.0 700.0 C181.7 680.0 160.0 638.3 150.0 600.0 C140.0 561.7 131.7 498.3 140.0 470.0Z" fill="#949494" />
<ellipse cx="405" cy="300" rx="38" ry="88" fill="#6a6a6a" transform="rotate(-22 405 300)" />
<path d="M370.0 425.0 C375.0 426.2 395.8 422.8 400.0 432.0 C404.2 441.2 398.3 462.0 395.0 480.0 C391.7 498.0 385.5 522.5 380.0 540.0 C374.5 557.5 365.0 577.5 362.0 585.0" fill="none" stroke="#c2c2c2" stroke-width="24" />
<path d="M300.0 640.0 C306.7 633.3 329.7 609.2 340.0 600.0 C350.3 590.8 358.3 587.5 362.0 585.0" fill="none" stroke="#b6b6b6" stroke-width="10" />
<ellipse cx="545" cy="420" rx="68" ry="28" fill="#b2b2b2" transform="rotate(-5 545 420)" />
<ellipse cx="556" cy="486" rx="60" ry="36" fill="#adadad" transform="rotate(-8 556 486)" />
<ellipse cx="712" cy="506" rx="40" ry="40" fill="#a9a9a9" />
<path d="M700.0 345.0 C707.5 335.0 728.3 327.5 750.0 325.0 C771.7 322.5 816.7 305.8 830.0 330.0 C843.3 354.2 836.7 449.2 830.0 470.0 C823.3 490.8 805.0 462.5 790.0 455.0 C775.0 447.5 754.2 436.7 740.0 425.0 C725.8 413.3 711.7 398.3 705.0 385.0 C698.3 371.7 692.5 355.0 700.0 345.0Z" fill="#989898" />
<path d="M600.0 530.0 C601.7 513.3 636.7 481.7 650.0 480.0 C663.3 478.3 671.7 506.7 680.0 520.0 C688.3 533.3 706.7 550.0 700.0 560.0 C693.3 570.0 656.7 585.0 640.0 580.0 C623.3 575.0 598.3 546.7 600.0 530.0Z" fill="#6a6a6a" />
<path d="M560.0 205.0 C562.5 192.5 563.3 175.0 575.0 165.0 C586.7 155.0 608.3 148.3 630.0 145.0 C651.7 141.7 684.7 142.2 705.0 145.0 C725.3 147.8 741.5 152.0 752.0 162.0 C762.5 172.0 765.8 192.0 768.0 205.0 C770.2 218.0 799.7 234.2 765.0 240.0 C730.3 245.8 594.2 245.8 560.0 240.0 C525.8 234.2 557.5 217.5 560.0 205.0Z" fill="#6a6a6a" />
<path d="M577.0 229.0 C597.5 224.8 629.8 226.5 660.0 226.0 C690.2 225.5 742.0 220.3 758.0 226.0 C774.0 231.7 764.2 247.7 756.0 260.0 C747.8 272.3 729.0 290.0 709.0 300.0 C689.0 310.0 654.8 313.3 636.0 320.0 C617.2 326.7 612.5 332.7 596.0 340.0 C579.5 347.3 555.0 361.7 537.0 364.0 C519.0 366.3 500.2 361.3 488.0 354.0 C475.8 346.7 464.0 333.0 464.0 320.0 C464.0 307.0 475.8 287.5 488.0 276.0 C500.2 264.5 522.2 258.8 537.0 251.0 C551.8 243.2 556.5 233.2 577.0 229.0Z" fill="#ececec" />
<ellipse cx="572" cy="262" rx="26" ry="18" fill="#8a8a8a" />
<path d="M572.0 205.0 C573.2 195.5 575.3 180.2 585.0 172.0 C594.7 163.8 610.8 158.7 630.0 156.0 C649.2 153.3 681.3 153.3 700.0 156.0 C718.7 158.7 733.0 163.8 742.0 172.0 C751.0 180.2 753.0 195.7 754.0 205.0 C755.0 214.3 763.7 224.0 748.0 228.0 C732.3 232.0 688.3 228.8 660.0 229.0 C631.7 229.2 592.7 233.0 578.0 229.0 C563.3 225.0 570.8 214.5 572.0 205.0Z" fill="#000" />
<path d="M787.0 158.0 C793.7 147.7 822.8 140.5 830.0 150.0 C837.2 159.5 836.7 204.7 830.0 215.0 C823.3 225.3 797.2 221.5 790.0 212.0 C782.8 202.5 780.3 168.3 787.0 158.0Z" fill="#000" />
<path d="M300.0 830.0 C319.0 826.0 371.7 827.0 400.0 822.0 C428.3 817.0 443.3 812.0 470.0 800.0 C496.7 788.0 540.0 766.7 560.0 750.0 C580.0 733.3 576.7 710.0 590.0 700.0 C603.3 690.0 600.0 691.7 640.0 690.0 C680.0 688.3 798.3 655.8 830.0 690.0 C861.7 724.2 835.5 862.3 830.0 895.0 C824.5 927.7 811.2 890.0 797.0 886.0 C782.8 882.0 762.2 877.3 745.0 871.0 C727.8 864.7 709.3 851.0 694.0 848.0 C678.7 845.0 668.3 846.7 653.0 853.0 C637.7 859.3 620.7 876.2 602.0 886.0 C583.3 895.8 565.7 906.3 541.0 912.0 C516.3 917.7 483.8 923.3 454.0 920.0 C424.2 916.7 390.0 904.3 362.0 892.0 C334.0 879.7 296.3 856.3 286.0 846.0 C275.7 835.7 281.0 834.0 300.0 830.0Z" fill="#808080" />
<path d="M560.0 600.0 C565.8 583.3 576.7 566.7 600.0 560.0 C623.3 553.3 666.7 556.7 700.0 560.0 C733.3 563.3 778.3 573.3 800.0 580.0 C821.7 586.7 825.0 580.0 830.0 600.0 C835.0 620.0 868.3 683.3 830.0 700.0 C791.7 716.7 644.2 706.7 600.0 700.0 C555.8 693.3 571.7 676.7 565.0 660.0 C558.3 643.3 554.2 616.7 560.0 600.0Z" fill="#6e6e6e" />
<path d="M478.0 530.0 C488.8 522.0 531.0 538.7 545.0 552.0 C559.0 565.3 561.5 587.0 562.0 610.0 C562.5 633.0 559.7 663.7 548.0 690.0 C536.3 716.3 516.7 749.3 492.0 768.0 C467.3 786.7 428.7 795.0 400.0 802.0 C371.3 809.0 334.7 810.8 320.0 810.0 C305.3 809.2 298.7 802.3 312.0 797.0 C325.3 791.7 375.7 787.2 400.0 778.0 C424.3 768.8 445.3 756.7 458.0 742.0 C470.7 727.3 472.3 713.7 476.0 690.0 C479.7 666.3 479.7 626.7 480.0 600.0 C480.3 573.3 467.2 538.0 478.0 530.0Z" fill="#383838" />
<path d="M318.0 802.0 C331.7 799.3 375.5 793.0 400.0 786.0 C424.5 779.0 445.0 769.7 465.0 760.0 C485.0 750.3 506.2 739.7 520.0 728.0 C533.8 716.3 543.3 696.3 548.0 690.0" fill="none" stroke="#909090" stroke-width="5" />
<path d="M320.0 800.0 C332.5 796.0 375.0 793.8 400.0 788.0 C425.0 782.2 448.3 773.8 470.0 765.0 C491.7 756.2 519.0 737.8 530.0 735.0 C541.0 732.2 544.3 740.5 536.0 748.0 C527.7 755.5 502.7 770.3 480.0 780.0 C457.3 789.7 425.8 800.7 400.0 806.0 C374.2 811.3 338.3 813.0 325.0 812.0 C311.7 811.0 307.5 804.0 320.0 800.0Z" fill="#000" />
<ellipse cx="672" cy="626" rx="102" ry="70" fill="#f2f2f2" />
<ellipse cx="672" cy="628" rx="76" ry="44" fill="#d6d6d6" />
<ellipse cx="672" cy="716" rx="40" ry="26" fill="#6a6a6a" />
</g><g filter="url(#c3b1)">
<path d="M612.0 742.0 C616.7 745.0 630.0 756.2 640.0 760.0 C650.0 763.8 661.2 765.0 672.0 765.0 C682.8 765.0 694.0 764.2 705.0 760.0 C716.0 755.8 732.5 743.3 738.0 740.0" fill="none" stroke="#fff" stroke-width="20" stroke-linecap="round"/>
<path d="M676.0 765.0 L678.0 838.0" fill="none" stroke="#fff" stroke-width="20" stroke-linecap="round"/>
<ellipse cx="620" cy="742" rx="8" ry="8" fill="#888" />
<ellipse cx="732" cy="740" rx="8" ry="8" fill="#888" />
<ellipse cx="240" cy="410" rx="25" ry="24" fill="#868686" />
<ellipse cx="212" cy="550" rx="25" ry="24" fill="#858585" />
<ellipse cx="214" cy="550" rx="9" ry="9" fill="#a0a0a0" />
<ellipse cx="322" cy="665" rx="12" ry="12" fill="#898989" />
<ellipse cx="410" cy="660" rx="9" ry="9" fill="#8c8c8c" />
<ellipse cx="370" cy="420" rx="8" ry="8" fill="#ccc" />
<ellipse cx="440" cy="405" rx="8" ry="7" fill="#d8d8d8" />
<ellipse cx="470" cy="392" rx="8" ry="7" fill="#d8d8d8" />
<ellipse cx="580" cy="375" rx="8" ry="7" fill="#d8d8d8" />
<ellipse cx="610" cy="372" rx="8" ry="7" fill="#d8d8d8" />
<ellipse cx="640" cy="560" rx="8" ry="7" fill="#d8d8d8" />
<ellipse cx="735" cy="165" rx="8" ry="7" fill="#d8d8d8" />
<path d="M420.0 420.0 C428.3 416.7 453.3 405.8 470.0 400.0 C486.7 394.2 511.7 387.5 520.0 385.0" fill="none" stroke="#2a2a2a" stroke-width="6" />
<ellipse cx="135" cy="385" rx="14" ry="38" fill="#fff" transform="rotate(20 135 385)" />
<ellipse cx="135" cy="387" rx="5" ry="20" fill="#555" transform="rotate(20 135 387)" />
<ellipse cx="141" cy="640" rx="11" ry="46" fill="#fff" transform="rotate(-27 141 640)" />
<ellipse cx="345" cy="823" rx="42" ry="14" fill="#fff" transform="rotate(10 345 823)" />
<ellipse cx="345" cy="823" rx="22" ry="4" fill="#999" transform="rotate(10 345 823)" />
<ellipse cx="520" cy="757" rx="25" ry="12" fill="#fff" transform="rotate(-27 520 757)" />
<ellipse cx="520" cy="757" rx="10" ry="3" fill="#888" transform="rotate(-27 520 757)" />
<path d="M270.0 190.0 C275.0 185.8 291.7 171.3 300.0 165.0 C308.3 158.7 316.7 154.2 320.0 152.0" fill="none" stroke="#ccc" stroke-width="5" />
</g></g></svg>
<svg id="ct4" x="650" y="682" width="230" height="265" viewBox="0 0 822 947" overflow="hidden">
<defs>
<clipPath id="c4clip"><rect x="25" y="32" width="747" height="920"/></clipPath>
<filter id="c4b" x="-10%" y="-10%" width="120%" height="120%"><feGaussianBlur stdDeviation="3"/></filter>
<filter id="c4b1" x="-10%" y="-10%" width="120%" height="120%"><feGaussianBlur stdDeviation="1.8"/></filter>
<filter id="c4n" x="0" y="0" width="100%" height="100%"><feTurbulence type="fractalNoise" baseFrequency="0.08" numOctaves="2" seed="7"/><feColorMatrix type="matrix" values="0 0 0 0 0.2  0 0 0 0 0.2  0 0 0 0 0.2  0 0 0 -3.4 1.45"/><feGaussianBlur stdDeviation="2"/><feComposite in2="SourceAlpha" operator="in"/></filter>
</defs>
<rect x="25" y="32" width="747" height="920" fill="#000"/>
<g clip-path="url(#c4clip)">
<g filter="url(#c4b)">
<path d="M1400.0 34.0 C1316.7 34.0 1004.7 33.8 900.0 34.0 C795.3 34.2 822.2 34.2 772.0 35.0 C721.8 35.8 651.5 37.0 599.0 39.0 C546.5 41.0 497.7 41.3 457.0 47.0 C416.3 52.7 388.3 62.5 355.0 73.0 C321.7 83.5 284.2 97.0 257.0 110.0 C229.8 123.0 213.0 134.0 192.0 151.0 C171.0 168.0 149.3 189.5 131.0 212.0 C112.7 234.5 94.7 261.3 82.0 286.0 C69.3 310.7 62.0 334.3 55.0 360.0 C48.0 385.7 43.2 415.0 40.0 440.0 C36.8 465.0 36.0 487.5 36.0 510.0 C36.0 532.5 37.7 555.7 40.0 575.0 C42.3 594.3 41.3 597.2 50.0 626.0 C58.7 654.8 74.0 713.0 92.0 748.0 C110.0 783.0 131.0 811.5 158.0 836.0 C185.0 860.5 220.8 879.3 254.0 895.0 C287.2 910.7 324.0 922.0 357.0 930.0 C390.0 938.0 411.7 940.3 452.0 943.0 C492.3 945.7 545.7 948.2 599.0 946.0 C652.3 943.8 721.8 933.5 772.0 930.0 C822.2 926.5 795.3 925.8 900.0 925.0 C1004.7 924.2 1316.7 925.0 1400.0 925.0Z" fill="#323232" stroke="#8c8c8c" stroke-width="7"/>
<path d="M1400.0 92.0 C1316.7 92.0 1016.7 92.0 900.0 92.0 C783.3 92.0 751.7 92.3 700.0 92.0 C648.3 91.7 629.3 89.0 590.0 90.0 C550.7 91.0 500.0 93.0 464.0 98.0 C428.0 103.0 403.3 110.8 374.0 120.0 C344.7 129.2 312.2 141.2 288.0 153.0 C263.8 164.8 248.2 175.3 229.0 191.0 C209.8 206.7 189.7 226.8 173.0 247.0 C156.3 267.2 140.7 290.3 129.0 312.0 C117.3 333.7 109.7 354.3 103.0 377.0 C96.3 399.7 92.0 425.5 89.0 448.0 C86.0 470.5 84.7 492.0 85.0 512.0 C85.3 532.0 87.5 549.7 91.0 568.0 C94.5 586.3 97.5 598.3 106.0 622.0 C114.5 645.7 127.2 684.3 142.0 710.0 C156.8 735.7 175.0 757.3 195.0 776.0 C215.0 794.7 238.0 814.3 262.0 822.0 C286.0 829.7 311.8 812.5 339.0 822.0 C366.2 831.5 393.7 865.8 425.0 879.0 C456.3 892.2 494.5 903.3 527.0 901.0 C559.5 898.7 596.0 875.8 620.0 865.0 C644.0 854.2 655.3 837.2 671.0 836.0 C686.7 834.8 697.2 850.8 714.0 858.0 C730.8 865.2 741.0 873.7 772.0 879.0 C803.0 884.3 795.3 888.2 900.0 890.0 C1004.7 891.8 1316.7 890.0 1400.0 890.0Z" fill="#7c7c7c" />
<path d="M400.0 150.0 C415.0 120.8 470.0 131.7 520.0 125.0 C570.0 118.3 648.3 112.5 700.0 110.0 C751.7 107.5 808.3 35.0 830.0 110.0 C851.7 185.0 868.3 485.0 830.0 560.0 C791.7 635.0 658.3 566.7 600.0 560.0 C541.7 553.3 508.3 563.3 480.0 520.0 C451.7 476.7 443.3 361.7 430.0 300.0 C416.7 238.3 385.0 179.2 400.0 150.0Z" fill="#3c3c3c" />
<path d="M215.0 735.0 C218.3 741.7 272.5 767.2 300.0 772.0 C327.5 776.8 355.0 772.3 380.0 764.0 C405.0 755.7 430.0 740.7 450.0 722.0 C470.0 703.3 489.7 679.0 500.0 652.0 C510.3 625.0 517.0 586.2 512.0 560.0 C507.0 533.8 482.0 500.8 470.0 495.0 C458.0 489.2 451.7 511.7 440.0 525.0 C428.3 538.3 415.8 554.2 400.0 575.0 C384.2 595.8 358.3 628.8 345.0 650.0 C331.7 671.2 330.8 688.3 320.0 702.0 C309.2 715.7 297.5 726.5 280.0 732.0 C262.5 737.5 211.7 728.3 215.0 735.0Z" fill="#262626" />
<path d="M400.0 160.0 C391.8 154.5 364.3 176.2 346.0 187.0 C327.7 197.8 308.0 212.8 290.0 225.0 C272.0 237.2 258.7 241.0 238.0 260.0 C217.3 279.0 184.0 311.3 166.0 339.0 C148.0 366.7 138.3 399.2 130.0 426.0 C121.7 452.8 117.3 477.7 116.0 500.0 C114.7 522.3 118.0 540.0 122.0 560.0 C126.0 580.0 130.3 596.7 140.0 620.0 C149.7 643.3 165.0 679.7 180.0 700.0 C195.0 720.3 213.3 736.7 230.0 742.0 C246.7 747.3 265.0 738.7 280.0 732.0 C295.0 725.3 310.0 715.3 320.0 702.0 C330.0 688.7 331.7 668.7 340.0 652.0 C348.3 635.3 360.0 615.3 370.0 602.0 C380.0 588.7 388.3 585.3 400.0 572.0 C411.7 558.7 431.3 542.0 440.0 522.0 C448.7 502.0 455.0 475.3 452.0 452.0 C449.0 428.7 430.3 407.0 422.0 382.0 C413.7 357.0 406.5 329.0 402.0 302.0 C397.5 275.0 395.3 243.7 395.0 220.0 C394.7 196.3 408.2 165.5 400.0 160.0Z" fill="#9c9c9c" />
<path d="M340.0 640.0 C342.5 624.2 346.7 606.3 360.0 595.0 C373.3 583.7 401.7 572.8 420.0 572.0 C438.3 571.2 460.0 577.0 470.0 590.0 C480.0 603.0 485.0 631.7 480.0 650.0 C475.0 668.3 456.7 689.0 440.0 700.0 C423.3 711.0 395.8 717.7 380.0 716.0 C364.2 714.3 351.7 702.7 345.0 690.0 C338.3 677.3 337.5 655.8 340.0 640.0Z" fill="#a9a9a9" />
<ellipse cx="378" cy="232" rx="47" ry="58" fill="#7a7a7a" transform="rotate(-20 378 232)" />
<path d="M420.0 135.0 C430.8 126.7 458.3 125.8 470.0 130.0 C481.7 134.2 490.0 148.3 490.0 160.0 C490.0 171.7 480.0 192.5 470.0 200.0 C460.0 207.5 440.8 208.3 430.0 205.0 C419.2 201.7 406.7 191.7 405.0 180.0 C403.3 168.3 409.2 143.3 420.0 135.0Z" fill="#999" />
<path d="M546.0 320.0 C558.3 305.3 578.8 300.0 600.0 296.0 C621.2 292.0 652.7 298.3 673.0 296.0 C693.3 293.7 702.5 287.7 722.0 282.0 C741.5 276.3 778.7 219.8 790.0 262.0 C801.3 304.2 843.3 489.5 790.0 535.0 C736.7 580.5 522.0 547.8 470.0 535.0 C418.0 522.2 468.7 483.2 478.0 458.0 C487.3 432.8 514.7 407.0 526.0 384.0 C537.3 361.0 533.7 334.7 546.0 320.0Z" fill="#868686" />
<path d="M655.0 340.0 C662.5 348.7 685.8 377.0 700.0 392.0 C714.2 407.0 725.0 417.0 740.0 430.0 C755.0 443.0 781.7 463.3 790.0 470.0" fill="none" stroke="#484848" stroke-width="14" />
<path d="M560.0 330.0 C566.7 325.0 585.0 306.7 600.0 300.0 C615.0 293.3 641.7 291.7 650.0 290.0" fill="none" stroke="#4a4a4a" stroke-width="8" />
<path d="M541.0 195.0 C549.2 173.3 590.2 150.0 600.0 165.0 C609.8 180.0 608.2 263.3 600.0 285.0 C591.8 306.7 560.8 310.0 551.0 295.0 C541.2 280.0 532.8 216.7 541.0 195.0Z" fill="#9c9c9c" />
<path d="M415.0 345.0 C420.0 330.8 454.2 332.5 470.0 335.0 C485.8 337.5 504.2 345.8 510.0 360.0 C515.8 374.2 511.7 405.0 505.0 420.0 C498.3 435.0 480.8 450.0 470.0 450.0 C459.2 450.0 449.2 437.5 440.0 420.0 C430.8 402.5 410.0 359.2 415.0 345.0Z" fill="#8c8c8c" />
<ellipse cx="535" cy="456" rx="68" ry="48" fill="#9c9c9c" transform="rotate(-30 535 456)" />
<ellipse cx="603" cy="385" rx="45" ry="36" fill="#999" transform="rotate(-10 603 385)" />
<ellipse cx="686" cy="482" rx="40" ry="46" fill="#a7a7a7" />
<path d="M735.0 250.0 C745.0 231.7 789.2 205.0 800.0 240.0 C810.8 275.0 806.7 426.7 800.0 460.0 C793.3 493.3 770.0 458.3 760.0 440.0 C750.0 421.7 744.2 381.7 740.0 350.0 C735.8 318.3 725.0 268.3 735.0 250.0Z" fill="#909090" />
<path d="M520.0 560.0 C520.0 546.7 543.3 526.7 560.0 520.0 C576.7 513.3 606.7 513.3 620.0 520.0 C633.3 526.7 650.0 546.7 640.0 560.0 C630.0 573.3 580.0 600.0 560.0 600.0 C540.0 600.0 520.0 573.3 520.0 560.0Z" fill="#707070" />
<path d="M450.0 206.0 C465.8 200.2 504.0 191.0 520.0 200.0 C536.0 209.0 542.7 239.7 546.0 260.0 C549.3 280.3 551.0 307.7 540.0 322.0 C529.0 336.3 500.0 346.0 480.0 346.0 C460.0 346.0 431.7 333.0 420.0 322.0 C408.3 311.0 409.2 294.5 410.0 280.0 C410.8 265.5 418.3 247.3 425.0 235.0 C431.7 222.7 434.2 211.8 450.0 206.0Z" fill="#e6e6e6" />
<path d="M525.0 160.0 C528.3 145.3 540.8 137.8 560.0 132.0 C579.2 126.2 613.3 124.5 640.0 125.0 C666.7 125.5 697.5 127.5 720.0 135.0 C742.5 142.5 766.7 154.2 775.0 170.0 C783.3 185.8 779.2 213.3 770.0 230.0 C760.8 246.7 741.7 260.0 720.0 270.0 C698.3 280.0 663.3 290.0 640.0 290.0 C616.7 290.0 596.7 281.7 580.0 270.0 C563.3 258.3 549.2 238.3 540.0 220.0 C530.8 201.7 521.7 174.7 525.0 160.0Z" fill="#8a8a8a" />
<path d="M545.0 175.0 C547.5 163.3 560.8 164.2 580.0 160.0 C599.2 155.8 635.0 149.2 660.0 150.0 C685.0 150.8 714.2 157.5 730.0 165.0 C745.8 172.5 753.3 183.3 755.0 195.0 C756.7 206.7 752.5 223.8 740.0 235.0 C727.5 246.2 701.7 257.5 680.0 262.0 C658.3 266.5 629.2 267.3 610.0 262.0 C590.8 256.7 575.8 244.5 565.0 230.0 C554.2 215.5 542.5 186.7 545.0 175.0Z" fill="#cfcfcf" />
<ellipse cx="612" cy="158" rx="68" ry="13" fill="#000" transform="rotate(-2 612 158)" />
<path d="M330.0 815.0 C340.2 809.7 376.7 797.5 400.0 790.0 C423.3 782.5 450.0 778.3 470.0 770.0 C490.0 761.7 498.3 745.0 520.0 740.0 C541.7 735.0 556.7 740.0 600.0 740.0 C643.3 740.0 741.7 736.7 780.0 740.0 C818.3 743.3 821.7 735.0 830.0 760.0 C838.3 785.0 839.7 870.2 830.0 890.0 C820.3 909.8 791.3 884.3 772.0 879.0 C752.7 873.7 730.8 865.2 714.0 858.0 C697.2 850.8 686.7 834.8 671.0 836.0 C655.3 837.2 644.0 854.2 620.0 865.0 C596.0 875.8 559.5 898.7 527.0 901.0 C494.5 903.3 456.3 892.2 425.0 879.0 C393.7 865.8 354.8 832.7 339.0 822.0 C323.2 811.3 319.8 820.3 330.0 815.0Z" fill="#7e7e7e" />
<path d="M500.0 700.0 C500.0 673.3 510.0 623.3 520.0 600.0 C530.0 576.7 530.0 570.0 560.0 560.0 C590.0 550.0 660.0 540.0 700.0 540.0 C740.0 540.0 778.3 550.0 800.0 560.0 C821.7 570.0 825.0 566.7 830.0 600.0 C835.0 633.3 881.7 733.3 830.0 760.0 C778.3 786.7 575.0 770.0 520.0 760.0 C465.0 750.0 500.0 726.7 500.0 700.0Z" fill="#707070" />
<ellipse cx="652" cy="606" rx="96" ry="72" fill="#f6f6f6" />
<path d="M516.0 725.0 C522.7 720.0 544.3 713.2 560.0 712.0 C575.7 710.8 595.0 714.2 610.0 718.0 C625.0 721.8 635.0 735.3 650.0 735.0 C665.0 734.7 681.7 720.8 700.0 716.0 C718.3 711.2 743.3 706.7 760.0 706.0 C776.7 705.3 793.3 708.0 800.0 712.0 C806.7 716.0 810.0 726.2 800.0 730.0 C790.0 733.8 755.0 730.8 740.0 735.0 C725.0 739.2 725.0 750.5 710.0 755.0 C695.0 759.5 670.0 762.5 650.0 762.0 C630.0 761.5 605.0 756.5 590.0 752.0 C575.0 747.5 571.7 736.7 560.0 735.0 C548.3 733.3 527.3 743.7 520.0 742.0 C512.7 740.3 509.3 730.0 516.0 725.0Z" fill="#f8f8f8" />
<path d="M612.0 690.0 C616.7 681.3 636.7 668.0 650.0 668.0 C663.3 668.0 687.0 681.3 692.0 690.0 C697.0 698.7 687.0 713.3 680.0 720.0 C673.0 726.7 659.7 730.0 650.0 730.0 C640.3 730.0 628.3 726.7 622.0 720.0 C615.7 713.3 607.3 698.7 612.0 690.0Z" fill="#585858" />
</g>
<path d="M545.0 175.0 C547.5 163.3 560.8 164.2 580.0 160.0 C599.2 155.8 635.0 149.2 660.0 150.0 C685.0 150.8 714.2 157.5 730.0 165.0 C745.8 172.5 753.3 183.3 755.0 195.0 C756.7 206.7 752.5 223.8 740.0 235.0 C727.5 246.2 701.7 257.5 680.0 262.0 C658.3 266.5 629.2 267.3 610.0 262.0 C590.8 256.7 575.8 244.5 565.0 230.0 C554.2 215.5 542.5 186.7 545.0 175.0Z" fill="#444" filter="url(#c4n)" opacity="0.8"/>
<path d="M640.0 560.0 C651.7 555.0 685.0 561.7 700.0 570.0 C715.0 578.3 728.3 596.7 730.0 610.0 C731.7 623.3 721.7 645.0 710.0 650.0 C698.3 655.0 673.3 648.3 660.0 640.0 C646.7 631.7 633.3 613.3 630.0 600.0 C626.7 586.7 628.3 565.0 640.0 560.0Z" fill="#999" filter="url(#c4n)" opacity="0.8"/>
<g filter="url(#c4b1)">
<ellipse cx="500" cy="373" rx="10" ry="5" fill="#000" />
<ellipse cx="605" cy="183" rx="4" ry="4" fill="#000" />
<ellipse cx="470" cy="465" rx="6" ry="14" fill="#ddd" transform="rotate(20 470 465)" />
<path d="M560.0 770.0 C561.7 775.0 569.2 790.0 570.0 800.0 C570.8 810.0 565.8 825.0 565.0 830.0" fill="none" stroke="#555" stroke-width="4" />
<path d="M640.0 765.0 C640.8 772.5 645.0 795.8 645.0 810.0 C645.0 824.2 640.8 843.3 640.0 850.0" fill="none" stroke="#555" stroke-width="4" />
<path d="M720.0 760.0 C719.2 766.7 714.2 786.7 715.0 800.0 C715.8 813.3 723.3 833.3 725.0 840.0" fill="none" stroke="#555" stroke-width="4" />
<ellipse cx="106" cy="551" rx="10" ry="45" fill="#fff" transform="rotate(-12 106 551)" />
<ellipse cx="292" cy="801" rx="46" ry="14" fill="#fff" transform="rotate(20 292 801)" />
<ellipse cx="292" cy="801" rx="24" ry="3.5" fill="#aaa" transform="rotate(20 292 801)" />
<ellipse cx="455" cy="768" rx="32" ry="13" fill="#fff" transform="rotate(-15 455 768)" />
<ellipse cx="455" cy="768" rx="17" ry="4" fill="#888" transform="rotate(-15 455 768)" />
</g></g></svg>
</svg></body></html>
